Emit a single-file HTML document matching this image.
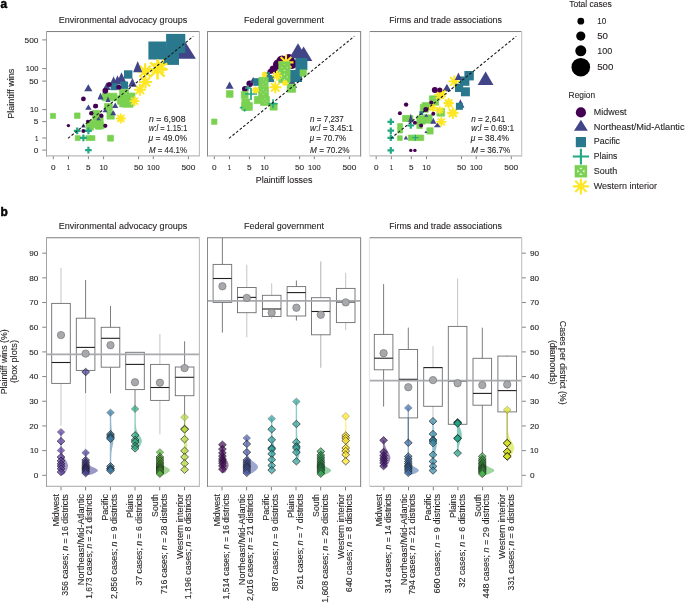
<!DOCTYPE html>
<html><head><meta charset="utf-8"><style>
html,body{margin:0;padding:0;background:#fff;overflow:hidden;}
svg{display:block;font-family:"Liberation Sans", sans-serif;}
text{font-family:"Liberation Sans", sans-serif;stroke:#231f20;stroke-width:0.1px;paint-order:stroke;}
svg{will-change:transform;}
</style></head><body>
<svg width="685" height="603" viewBox="0 0 685 603">
<rect width="685" height="603" fill="#fff"/>
<text x="0.40" y="7.90" font-size="12.30" font-weight="bold" textLength="6.60" lengthAdjust="spacingAndGlyphs" fill="#000" style="stroke:#000;stroke-width:0.45px">a</text>
<text x="0.60" y="215.70" font-size="12.20" font-weight="bold" textLength="7.30" lengthAdjust="spacingAndGlyphs" fill="#000" style="stroke:#000;stroke-width:0.45px">b</text>
<text x="122.95" y="22.50" font-size="8.48" text-anchor="middle" textLength="128.60" lengthAdjust="spacingAndGlyphs" fill="#231f20">Environmental advocacy groups</text>
<line x1="53.30" y1="155.90" x2="53.30" y2="159.20" stroke="#808285" stroke-width="1"/>
<text x="53.30" y="169.90" font-size="7.90" text-anchor="middle" textLength="4.60" lengthAdjust="spacingAndGlyphs" fill="#231f20">0</text>
<line x1="68.50" y1="155.90" x2="68.50" y2="159.20" stroke="#808285" stroke-width="1"/>
<text x="68.50" y="169.90" font-size="7.90" text-anchor="middle" textLength="3.40" lengthAdjust="spacingAndGlyphs" fill="#231f20">1</text>
<line x1="88.40" y1="155.90" x2="88.40" y2="159.20" stroke="#808285" stroke-width="1"/>
<text x="88.40" y="169.90" font-size="7.90" text-anchor="middle" textLength="4.60" lengthAdjust="spacingAndGlyphs" fill="#231f20">5</text>
<line x1="103.60" y1="155.90" x2="103.60" y2="159.20" stroke="#808285" stroke-width="1"/>
<text x="103.60" y="169.90" font-size="7.90" text-anchor="middle" textLength="8.40" lengthAdjust="spacingAndGlyphs" fill="#231f20">10</text>
<line x1="138.60" y1="155.90" x2="138.60" y2="159.20" stroke="#808285" stroke-width="1"/>
<text x="138.60" y="169.90" font-size="7.90" text-anchor="middle" textLength="9.20" lengthAdjust="spacingAndGlyphs" fill="#231f20">50</text>
<line x1="153.30" y1="155.90" x2="153.30" y2="159.20" stroke="#808285" stroke-width="1"/>
<text x="153.30" y="169.90" font-size="7.90" text-anchor="middle" textLength="12.60" lengthAdjust="spacingAndGlyphs" fill="#231f20">100</text>
<line x1="188.40" y1="155.90" x2="188.40" y2="159.20" stroke="#808285" stroke-width="1"/>
<text x="188.40" y="169.90" font-size="7.90" text-anchor="middle" textLength="13.90" lengthAdjust="spacingAndGlyphs" fill="#231f20">500</text>
<text x="284.05" y="22.50" font-size="8.48" text-anchor="middle" textLength="80.00" lengthAdjust="spacingAndGlyphs" fill="#231f20">Federal government</text>
<line x1="214.30" y1="155.90" x2="214.30" y2="159.20" stroke="#808285" stroke-width="1"/>
<text x="214.30" y="169.90" font-size="7.90" text-anchor="middle" textLength="4.60" lengthAdjust="spacingAndGlyphs" fill="#231f20">0</text>
<line x1="229.50" y1="155.90" x2="229.50" y2="159.20" stroke="#808285" stroke-width="1"/>
<text x="229.50" y="169.90" font-size="7.90" text-anchor="middle" textLength="3.40" lengthAdjust="spacingAndGlyphs" fill="#231f20">1</text>
<line x1="249.40" y1="155.90" x2="249.40" y2="159.20" stroke="#808285" stroke-width="1"/>
<text x="249.40" y="169.90" font-size="7.90" text-anchor="middle" textLength="4.60" lengthAdjust="spacingAndGlyphs" fill="#231f20">5</text>
<line x1="264.60" y1="155.90" x2="264.60" y2="159.20" stroke="#808285" stroke-width="1"/>
<text x="264.60" y="169.90" font-size="7.90" text-anchor="middle" textLength="8.40" lengthAdjust="spacingAndGlyphs" fill="#231f20">10</text>
<line x1="299.60" y1="155.90" x2="299.60" y2="159.20" stroke="#808285" stroke-width="1"/>
<text x="299.60" y="169.90" font-size="7.90" text-anchor="middle" textLength="9.20" lengthAdjust="spacingAndGlyphs" fill="#231f20">50</text>
<line x1="314.30" y1="155.90" x2="314.30" y2="159.20" stroke="#808285" stroke-width="1"/>
<text x="314.30" y="169.90" font-size="7.90" text-anchor="middle" textLength="12.60" lengthAdjust="spacingAndGlyphs" fill="#231f20">100</text>
<line x1="349.40" y1="155.90" x2="349.40" y2="159.20" stroke="#808285" stroke-width="1"/>
<text x="349.40" y="169.90" font-size="7.90" text-anchor="middle" textLength="13.90" lengthAdjust="spacingAndGlyphs" fill="#231f20">500</text>
<text x="445.55" y="22.50" font-size="8.48" text-anchor="middle" textLength="112.80" lengthAdjust="spacingAndGlyphs" fill="#231f20">Firms and trade associations</text>
<line x1="376.20" y1="155.90" x2="376.20" y2="159.20" stroke="#808285" stroke-width="1"/>
<text x="376.20" y="169.90" font-size="7.90" text-anchor="middle" textLength="4.60" lengthAdjust="spacingAndGlyphs" fill="#231f20">0</text>
<line x1="391.40" y1="155.90" x2="391.40" y2="159.20" stroke="#808285" stroke-width="1"/>
<text x="391.40" y="169.90" font-size="7.90" text-anchor="middle" textLength="3.40" lengthAdjust="spacingAndGlyphs" fill="#231f20">1</text>
<line x1="411.30" y1="155.90" x2="411.30" y2="159.20" stroke="#808285" stroke-width="1"/>
<text x="411.30" y="169.90" font-size="7.90" text-anchor="middle" textLength="4.60" lengthAdjust="spacingAndGlyphs" fill="#231f20">5</text>
<line x1="426.50" y1="155.90" x2="426.50" y2="159.20" stroke="#808285" stroke-width="1"/>
<text x="426.50" y="169.90" font-size="7.90" text-anchor="middle" textLength="8.40" lengthAdjust="spacingAndGlyphs" fill="#231f20">10</text>
<line x1="461.50" y1="155.90" x2="461.50" y2="159.20" stroke="#808285" stroke-width="1"/>
<text x="461.50" y="169.90" font-size="7.90" text-anchor="middle" textLength="9.20" lengthAdjust="spacingAndGlyphs" fill="#231f20">50</text>
<line x1="476.20" y1="155.90" x2="476.20" y2="159.20" stroke="#808285" stroke-width="1"/>
<text x="476.20" y="169.90" font-size="7.90" text-anchor="middle" textLength="12.60" lengthAdjust="spacingAndGlyphs" fill="#231f20">100</text>
<line x1="511.30" y1="155.90" x2="511.30" y2="159.20" stroke="#808285" stroke-width="1"/>
<text x="511.30" y="169.90" font-size="7.90" text-anchor="middle" textLength="13.90" lengthAdjust="spacingAndGlyphs" fill="#231f20">500</text>
<line x1="42.30" y1="39.90" x2="46.50" y2="39.90" stroke="#808285" stroke-width="1"/>
<text x="38.40" y="42.70" font-size="7.90" text-anchor="end" textLength="13.90" lengthAdjust="spacingAndGlyphs" fill="#231f20">500</text>
<line x1="42.30" y1="68.60" x2="46.50" y2="68.60" stroke="#808285" stroke-width="1"/>
<text x="38.40" y="71.40" font-size="7.90" text-anchor="end" textLength="12.60" lengthAdjust="spacingAndGlyphs" fill="#231f20">100</text>
<line x1="42.30" y1="81.10" x2="46.50" y2="81.10" stroke="#808285" stroke-width="1"/>
<text x="38.40" y="83.90" font-size="7.90" text-anchor="end" textLength="9.20" lengthAdjust="spacingAndGlyphs" fill="#231f20">50</text>
<line x1="42.30" y1="109.60" x2="46.50" y2="109.60" stroke="#808285" stroke-width="1"/>
<text x="38.40" y="112.40" font-size="7.90" text-anchor="end" textLength="8.40" lengthAdjust="spacingAndGlyphs" fill="#231f20">10</text>
<line x1="42.30" y1="121.60" x2="46.50" y2="121.60" stroke="#808285" stroke-width="1"/>
<text x="38.40" y="124.40" font-size="7.90" text-anchor="end" textLength="4.60" lengthAdjust="spacingAndGlyphs" fill="#231f20">5</text>
<line x1="42.30" y1="138.00" x2="46.50" y2="138.00" stroke="#808285" stroke-width="1"/>
<text x="38.40" y="140.80" font-size="7.90" text-anchor="end" textLength="3.40" lengthAdjust="spacingAndGlyphs" fill="#231f20">1</text>
<line x1="42.30" y1="150.10" x2="46.50" y2="150.10" stroke="#808285" stroke-width="1"/>
<text x="38.40" y="152.90" font-size="7.90" text-anchor="end" textLength="4.60" lengthAdjust="spacingAndGlyphs" fill="#231f20">0</text>
<text x="14.50" y="93.70" font-size="8.48" text-anchor="middle" transform="rotate(-90 14.50 93.70)" textLength="50.00" lengthAdjust="spacingAndGlyphs" fill="#231f20">Plaintiff wins</text>
<text x="284.10" y="183.00" font-size="8.48" text-anchor="middle" textLength="56.60" lengthAdjust="spacingAndGlyphs" fill="#231f20">Plaintiff losses</text>
<path d="M185.4 42.1L195.9 58.8L174.9 58.8Z" fill="#414487"/>
<rect x="166.1" y="33.9" width="19.2" height="19.2" fill="#2a788e"/>
<rect x="148.4" y="41.5" width="18.0" height="18.0" fill="#2a788e"/>
<path d="M147.5 69.5L167.5 69.5M150.4 62.4L164.6 76.6M157.5 59.5L157.5 79.5M164.6 62.4L150.4 76.6" stroke="#fde725" stroke-width="2.50"/><circle cx="157.5" cy="69.5" r="4.20" fill="#fde725"/>
<rect x="163.2" y="49.1" width="15.8" height="15.8" fill="#2a788e"/>
<path d="M137.1 71.3L153.1 71.3M139.4 65.6L150.8 77.0M145.1 63.3L145.1 79.3M150.8 65.6L139.4 77.0" stroke="#fde725" stroke-width="2.22"/><circle cx="145.1" cy="71.3" r="3.36" fill="#fde725"/>
<path d="M119.65 95.65H130.95V106.95H119.65ZM123.95 97.91L126.65 97.91L125.30 99.72ZM123.95 104.69L126.65 104.69L125.30 102.88ZM121.91 99.95L121.91 102.65L123.72 101.30ZM128.69 99.95L128.69 102.65L126.88 101.30Z" fill="#7ad151" fill-rule="evenodd" stroke="#7ad151" stroke-width="0.7" stroke-linejoin="round"/>
<path d="M153.6 63.6L167.4 69.4M157.6 59.6L163.4 73.4M163.4 59.6L157.6 73.4M167.4 63.6L153.6 69.4" stroke="#fde725" stroke-width="2.15"/><circle cx="160.5" cy="66.5" r="3.15" fill="#fde725"/>
<path d="M122.85 96.85H133.15V107.15H122.85ZM126.95 98.91L129.05 98.91L128.00 100.56ZM126.95 105.09L129.05 105.09L128.00 103.44ZM124.91 100.95L124.91 103.05L126.56 102.00ZM131.09 100.95L131.09 103.05L129.44 102.00Z" fill="#7ad151" fill-rule="evenodd" stroke="#7ad151" stroke-width="0.7" stroke-linejoin="round"/>
<path d="M139.0 81.9L152.0 81.9M140.9 77.3L150.1 86.5M145.5 75.4L145.5 88.4M150.1 77.3L140.9 86.5" stroke="#fde725" stroke-width="2.01"/><circle cx="145.5" cy="81.9" r="2.73" fill="#fde725"/>
<path d="M119.35 89.35H128.65V98.65H119.35ZM123.25 91.21L124.75 91.21L124.00 92.70ZM123.25 96.79L124.75 96.79L124.00 95.30ZM121.21 93.25L121.21 94.75L122.70 94.00ZM126.79 93.25L126.79 94.75L125.30 94.00Z" fill="#7ad151" fill-rule="evenodd" stroke="#7ad151" stroke-width="0.7" stroke-linejoin="round"/>
<path d="M133.9 89.8L145.9 89.8M135.7 85.6L144.1 94.0M139.9 83.8L139.9 95.8M144.1 85.6L135.7 94.0" stroke="#fde725" stroke-width="1.94"/><circle cx="139.9" cy="89.8" r="2.52" fill="#fde725"/>
<path d="M137.7 60.9L142.3 72.3L133.1 72.3Z" fill="#414487"/>
<path d="M117.35 95.85H125.65V104.15H117.35ZM121.05 97.51L121.95 97.51L121.50 98.84ZM121.05 102.49L121.95 102.49L121.50 101.16ZM119.01 99.55L119.01 100.45L120.34 100.00ZM123.99 99.55L123.99 100.45L122.66 100.00Z" fill="#7ad151" fill-rule="evenodd" stroke="#7ad151" stroke-width="0.7" stroke-linejoin="round"/>
<path d="M121.5 72.3L125.9 81.9L117.1 81.9Z" fill="#414487"/>
<path d="M104.45 103.45H112.35V111.35H104.45ZM108.07 105.03L108.73 105.03L108.40 106.29ZM108.07 109.77L108.73 109.77L108.40 108.51ZM106.03 107.07L106.03 107.73L107.29 107.40ZM110.77 107.07L110.77 107.73L109.51 107.40Z" fill="#7ad151" fill-rule="evenodd" stroke="#7ad151" stroke-width="0.7" stroke-linejoin="round"/>
<path d="M127.05 93.05H134.95V100.95H127.05ZM130.67 94.63L131.33 94.63L131.00 95.89ZM130.67 99.37L131.33 99.37L131.00 98.11ZM128.63 96.67L128.63 97.33L129.89 97.00ZM133.37 96.67L133.37 97.33L132.11 97.00Z" fill="#7ad151" fill-rule="evenodd" stroke="#7ad151" stroke-width="0.7" stroke-linejoin="round"/>
<rect x="124.0" y="70.3" width="8.4" height="8.4" fill="#2a788e"/>
<path d="M117.5 75.3L121.7 84.5L113.3 84.5Z" fill="#414487"/>
<path d="M113.6 76.2L117.8 85.4L109.4 85.4Z" fill="#414487"/>
<path d="M132.4 78.0L136.6 86.7L128.2 86.7Z" fill="#414487"/>
<path d="M102.15 93.15H109.85V100.85H102.15ZM105.73 94.69L106.27 94.69L106.00 95.92ZM105.73 99.31L106.27 99.31L106.00 98.08ZM103.69 96.73L103.69 97.27L104.92 97.00ZM108.31 96.73L108.31 97.27L107.08 97.00Z" fill="#7ad151" fill-rule="evenodd" stroke="#7ad151" stroke-width="0.7" stroke-linejoin="round"/>
<path d="M109.15 93.15H116.85V100.85H109.15ZM112.73 94.69L113.27 94.69L113.00 95.92ZM112.73 99.31L113.27 99.31L113.00 98.08ZM110.69 96.73L110.69 97.27L111.92 97.00ZM115.31 96.73L115.31 97.27L114.08 97.00Z" fill="#7ad151" fill-rule="evenodd" stroke="#7ad151" stroke-width="0.7" stroke-linejoin="round"/>
<path d="M88.3 84.3L92.4 91.3L84.2 91.3Z" fill="#414487"/>
<path d="M106.7 82.4L110.7 90.0L102.7 90.0Z" fill="#414487"/>
<path d="M92.35 110.35H99.65V117.65H92.35Z" fill="#7ad151" fill-rule="evenodd" stroke="#7ad151" stroke-width="0.7" stroke-linejoin="round"/>
<path d="M86.15 122.85H93.45V130.15H86.15Z" fill="#7ad151" fill-rule="evenodd" stroke="#7ad151" stroke-width="0.7" stroke-linejoin="round"/>
<path d="M106.95 111.85H114.25V119.15H106.95Z" fill="#7ad151" fill-rule="evenodd" stroke="#7ad151" stroke-width="0.7" stroke-linejoin="round"/>
<path d="M95.85 121.65H103.15V128.95H95.85Z" fill="#7ad151" fill-rule="evenodd" stroke="#7ad151" stroke-width="0.7" stroke-linejoin="round"/>
<path d="M95.85 115.35H103.15V122.65H95.85Z" fill="#7ad151" fill-rule="evenodd" stroke="#7ad151" stroke-width="0.7" stroke-linejoin="round"/>
<path d="M93.35 120.35H100.65V127.65H93.35Z" fill="#7ad151" fill-rule="evenodd" stroke="#7ad151" stroke-width="0.7" stroke-linejoin="round"/>
<path d="M129.6 101.2L139.6 101.2M131.1 97.7L138.1 104.7M134.6 96.2L134.6 106.2M138.1 97.7L131.1 104.7" stroke="#fde725" stroke-width="1.80"/><circle cx="134.6" cy="101.2" r="2.10" fill="#fde725"/>
<path d="M115.9 118.5L125.7 118.5M117.3 115.0L124.3 122.0M120.8 113.6L120.8 123.4M124.3 115.0L117.3 122.0" stroke="#fde725" stroke-width="1.79"/><circle cx="120.8" cy="118.5" r="2.06" fill="#fde725"/>
<rect x="120.7" y="81.5" width="7.4" height="7.4" fill="#2a788e"/>
<rect x="110.5" y="83.2" width="7.0" height="7.0" fill="#2a788e"/>
<path d="M92.85 113.85H99.15V120.15H92.85Z" fill="#7ad151" fill-rule="evenodd" stroke="#7ad151" stroke-width="0.7" stroke-linejoin="round"/>
<path d="M95.45 122.85H101.75V129.15H95.45Z" fill="#7ad151" fill-rule="evenodd" stroke="#7ad151" stroke-width="0.7" stroke-linejoin="round"/>
<path d="M86.85 120.35H93.15V126.65H86.85Z" fill="#7ad151" fill-rule="evenodd" stroke="#7ad151" stroke-width="0.7" stroke-linejoin="round"/>
<path d="M107.55 135.25H113.45V141.15H107.55Z" fill="#7ad151" fill-rule="evenodd" stroke="#7ad151" stroke-width="0.7" stroke-linejoin="round"/>
<path d="M88.4 104.4L91.6 109.7L85.2 109.7Z" fill="#414487"/>
<path d="M74.55 112.95H80.05V118.45H74.55Z" fill="#7ad151" fill-rule="evenodd" stroke="#7ad151" stroke-width="0.7" stroke-linejoin="round"/>
<path d="M115.2 102.6L118.2 108.0L112.2 108.0Z" fill="#414487"/>
<path d="M113.2 110.2L116.2 115.2L110.2 115.2Z" fill="#414487"/>
<path d="M100.5 92.5L103.5 99.6L97.5 99.6Z" fill="#414487"/>
<path d="M98.85 123.35H104.15V128.65H98.85Z" fill="#7ad151" fill-rule="evenodd" stroke="#7ad151" stroke-width="0.7" stroke-linejoin="round"/>
<circle cx="105.3" cy="90.8" r="2.90" fill="#440154"/>
<path d="M50.45 113.35H55.55V118.45H50.45Z" fill="#7ad151" fill-rule="evenodd" stroke="#7ad151" stroke-width="0.7" stroke-linejoin="round"/>
<path d="M75.25 135.65H80.15V140.55H75.25Z" fill="#7ad151" fill-rule="evenodd" stroke="#7ad151" stroke-width="0.7" stroke-linejoin="round"/>
<path d="M86.05 135.65H90.95V140.55H86.05Z" fill="#7ad151" fill-rule="evenodd" stroke="#7ad151" stroke-width="0.7" stroke-linejoin="round"/>
<path d="M90.05 135.65H94.95V140.55H90.05Z" fill="#7ad151" fill-rule="evenodd" stroke="#7ad151" stroke-width="0.7" stroke-linejoin="round"/>
<path d="M73.8 130.9H80.6M77.2 127.5V134.3" stroke="#22a884" stroke-width="2.20"/>
<path d="M85.0 130.9H91.8M88.4 127.5V134.3" stroke="#22a884" stroke-width="2.20"/>
<path d="M80.0 137.9H86.8M83.4 134.5V141.3" stroke="#22a884" stroke-width="2.20"/>
<path d="M105.1 108.2L107.6 112.2L102.6 112.2Z" fill="#414487"/>
<path d="M108.0 96.5L110.5 102.0L105.5 102.0Z" fill="#414487"/>
<circle cx="109.2" cy="84.5" r="2.50" fill="#440154"/>
<circle cx="118.8" cy="87.2" r="2.50" fill="#440154"/>
<path d="M85.1 150.1H91.7M88.4 146.8V153.4" stroke="#22a884" stroke-width="2.20"/>
<circle cx="83.4" cy="98.9" r="2.40" fill="#440154"/>
<circle cx="95.4" cy="106.2" r="2.40" fill="#440154"/>
<path d="M83.4 123.2L85.7 127.4L81.1 127.4Z" fill="#414487"/>
<path d="M98.5 116.8L100.7 120.3L96.3 120.3Z" fill="#414487"/>
<circle cx="91.3" cy="113.2" r="2.20" fill="#440154"/>
<circle cx="101.3" cy="115.8" r="2.20" fill="#440154"/>
<circle cx="96.0" cy="105.9" r="2.20" fill="#440154"/>
<circle cx="105.3" cy="125.8" r="2.10" fill="#440154"/>
<circle cx="83.4" cy="130.9" r="2.00" fill="#440154"/>
<circle cx="87.8" cy="121.5" r="1.80" fill="#440154"/>
<circle cx="68.4" cy="125.6" r="1.70" fill="#440154"/>
<circle cx="282.0" cy="61.0" r="5.50" fill="#440154"/>
<circle cx="289.0" cy="59.5" r="5.50" fill="#440154"/>
<circle cx="292.0" cy="64.0" r="5.00" fill="#440154"/>
<circle cx="278.0" cy="64.5" r="5.00" fill="#440154"/>
<circle cx="273.5" cy="69.5" r="4.00" fill="#440154"/>
<circle cx="249.7" cy="83.8" r="3.30" fill="#440154"/>
<circle cx="245.0" cy="89.0" r="3.00" fill="#440154"/>
<circle cx="270.0" cy="71.5" r="2.50" fill="#440154"/>
<path d="M303.6 46.6L312.3 61.1L294.9 61.1Z" fill="#414487"/>
<path d="M298.0 43.3L306.6 58.0L289.4 58.0Z" fill="#414487"/>
<path d="M292.0 76.0L297.0 88.0L287.0 88.0Z" fill="#414487"/>
<path d="M229.6 81.4L233.6 88.8L225.6 88.8Z" fill="#414487"/>
<path d="M253.2 77.0L256.7 83.1L249.7 83.1Z" fill="#414487"/>
<rect x="295.4" y="58.0" width="12.0" height="12.0" fill="#2a788e"/>
<rect x="290.0" y="70.0" width="12.0" height="12.0" fill="#2a788e"/>
<rect x="253.2" y="78.2" width="7.6" height="7.6" fill="#2a788e"/>
<rect x="266.9" y="74.9" width="7.2" height="7.2" fill="#2a788e"/>
<rect x="264.0" y="72.0" width="6.0" height="6.0" fill="#2a788e"/>
<path d="M278.5 62.4L293.5 62.4M280.7 57.1L291.3 67.7M286.0 54.9L286.0 69.9M291.3 57.1L280.7 67.7" stroke="#fde725" stroke-width="2.15"/><circle cx="286.0" cy="62.4" r="3.15" fill="#fde725"/>
<path d="M278.75 61.85H290.05V73.15H278.75ZM283.05 64.11L285.75 64.11L284.40 65.92ZM283.05 70.89L285.75 70.89L284.40 69.08ZM281.01 66.15L281.01 68.85L282.82 67.50ZM287.79 66.15L287.79 68.85L285.98 67.50Z" fill="#7ad151" fill-rule="evenodd" stroke="#7ad151" stroke-width="0.7" stroke-linejoin="round"/>
<path d="M278.75 71.35H290.05V82.65H278.75ZM283.05 73.61L285.75 73.61L284.40 75.42ZM283.05 80.39L285.75 80.39L284.40 78.58ZM281.01 75.65L281.01 78.35L282.82 77.00ZM287.79 75.65L287.79 78.35L285.98 77.00Z" fill="#7ad151" fill-rule="evenodd" stroke="#7ad151" stroke-width="0.7" stroke-linejoin="round"/>
<path d="M258.55 87.05H268.45V96.95H258.55ZM262.57 89.03L264.43 89.03L263.50 90.61ZM262.57 94.97L264.43 94.97L263.50 93.39ZM260.53 91.07L260.53 92.93L262.11 92.00ZM266.47 91.07L266.47 92.93L264.89 92.00Z" fill="#7ad151" fill-rule="evenodd" stroke="#7ad151" stroke-width="0.7" stroke-linejoin="round"/>
<path d="M258.85 77.35H268.15V86.65H258.85ZM262.75 79.21L264.25 79.21L263.50 80.70ZM262.75 84.79L264.25 84.79L263.50 83.30ZM260.71 81.25L260.71 82.75L262.20 82.00ZM266.29 81.25L266.29 82.75L264.80 82.00Z" fill="#7ad151" fill-rule="evenodd" stroke="#7ad151" stroke-width="0.7" stroke-linejoin="round"/>
<path d="M260.55 96.55H269.45V105.45H260.55ZM264.37 98.33L265.63 98.33L265.00 99.75ZM264.37 103.67L265.63 103.67L265.00 102.25ZM262.33 100.37L262.33 101.63L263.75 101.00ZM267.67 100.37L267.67 101.63L266.25 101.00Z" fill="#7ad151" fill-rule="evenodd" stroke="#7ad151" stroke-width="0.7" stroke-linejoin="round"/>
<path d="M287.25 84.05H295.55V92.35H287.25ZM290.95 85.71L291.85 85.71L291.40 87.04ZM290.95 90.69L291.85 90.69L291.40 89.36ZM288.91 87.75L288.91 88.65L290.24 88.20ZM293.89 87.75L293.89 88.65L292.56 88.20Z" fill="#7ad151" fill-rule="evenodd" stroke="#7ad151" stroke-width="0.7" stroke-linejoin="round"/>
<path d="M241.85 98.95H249.75V106.85H241.85ZM245.47 100.53L246.13 100.53L245.80 101.79ZM245.47 105.27L246.13 105.27L245.80 104.01ZM243.43 102.57L243.43 103.23L244.69 102.90ZM248.17 102.57L248.17 103.23L246.91 102.90Z" fill="#7ad151" fill-rule="evenodd" stroke="#7ad151" stroke-width="0.7" stroke-linejoin="round"/>
<path d="M244.45 102.45H252.35V110.35H244.45ZM248.07 104.03L248.73 104.03L248.40 105.29ZM248.07 108.77L248.73 108.77L248.40 107.51ZM246.03 106.07L246.03 106.73L247.29 106.40ZM250.77 106.07L250.77 106.73L249.51 106.40Z" fill="#7ad151" fill-rule="evenodd" stroke="#7ad151" stroke-width="0.7" stroke-linejoin="round"/>
<path d="M241.85 102.45H249.75V110.35H241.85ZM245.47 104.03L246.13 104.03L245.80 105.29ZM245.47 108.77L246.13 108.77L245.80 107.51ZM243.43 106.07L243.43 106.73L244.69 106.40ZM248.17 106.07L248.17 106.73L246.91 106.40Z" fill="#7ad151" fill-rule="evenodd" stroke="#7ad151" stroke-width="0.7" stroke-linejoin="round"/>
<path d="M254.35 96.35H261.65V103.65H254.35Z" fill="#7ad151" fill-rule="evenodd" stroke="#7ad151" stroke-width="0.7" stroke-linejoin="round"/>
<path d="M270.05 103.05H277.15V110.15H270.05Z" fill="#7ad151" fill-rule="evenodd" stroke="#7ad151" stroke-width="0.7" stroke-linejoin="round"/>
<path d="M241.25 91.55H248.15V98.45H241.25Z" fill="#7ad151" fill-rule="evenodd" stroke="#7ad151" stroke-width="0.7" stroke-linejoin="round"/>
<path d="M226.35 90.65H233.05V97.35H226.35Z" fill="#7ad151" fill-rule="evenodd" stroke="#7ad151" stroke-width="0.7" stroke-linejoin="round"/>
<path d="M300.05 69.85H306.35V76.15H300.05Z" fill="#7ad151" fill-rule="evenodd" stroke="#7ad151" stroke-width="0.7" stroke-linejoin="round"/>
<path d="M211.65 119.05H216.95V124.35H211.65Z" fill="#7ad151" fill-rule="evenodd" stroke="#7ad151" stroke-width="0.7" stroke-linejoin="round"/>
<path d="M245.0 94.0H257.0M251.0 88.0V100.0" stroke="#22a884" stroke-width="1.70"/>
<path d="M268.5 103.7H277.5M273.0 99.2V108.2" stroke="#22a884" stroke-width="1.60"/>
<path d="M245.0 88.0H251.0M248.0 85.0V91.0" stroke="#22a884" stroke-width="1.30"/>
<path d="M243.2 110.3H246.2M244.7 108.8V111.8" stroke="#22a884" stroke-width="1.00"/>
<path d="M239.7 107.7H242.7M241.2 106.2V109.2" stroke="#22a884" stroke-width="1.00"/>
<path d="M269.3 87.3L281.3 87.3M271.1 83.1L279.5 91.5M275.3 81.3L275.3 93.3M279.5 83.1L271.1 91.5" stroke="#fde725" stroke-width="1.94"/><circle cx="275.3" cy="87.3" r="2.52" fill="#fde725"/>
<path d="M271.9 75.7L281.9 75.7M273.4 72.2L280.4 79.2M276.9 70.7L276.9 80.7M280.4 72.2L273.4 79.2" stroke="#fde725" stroke-width="1.80"/><circle cx="276.9" cy="75.7" r="2.10" fill="#fde725"/>
<path d="M252.2 90.1L259.2 90.1M253.2 87.6L258.2 92.6M255.7 86.6L255.7 93.6M258.2 87.6L253.2 92.6" stroke="#fde725" stroke-width="1.59"/><circle cx="255.7" cy="90.1" r="1.47" fill="#fde725"/>
<path d="M261.5 74.4L267.5 74.4M262.4 72.3L266.6 76.5M264.5 71.4L264.5 77.4M266.6 72.3L262.4 76.5" stroke="#fde725" stroke-width="1.52"/><circle cx="264.5" cy="74.4" r="1.26" fill="#fde725"/>
<path d="M282.0 83.0L288.0 83.0M282.9 80.9L287.1 85.1M285.0 80.0L285.0 86.0M287.1 80.9L282.9 85.1" stroke="#fde725" stroke-width="1.52"/><circle cx="285.0" cy="83.0" r="1.26" fill="#fde725"/>
<path d="M485.6 71.4L493.5 84.9L477.7 84.9Z" fill="#414487"/>
<path d="M429.35 95.85H438.65V105.15H429.35ZM433.25 97.71L434.75 97.71L434.00 99.20ZM433.25 103.29L434.75 103.29L434.00 101.80ZM431.21 99.75L431.21 101.25L432.70 100.50ZM436.79 99.75L436.79 101.25L435.30 100.50Z" fill="#7ad151" fill-rule="evenodd" stroke="#7ad151" stroke-width="0.7" stroke-linejoin="round"/>
<path d="M448.4 81.4L460.4 81.4M450.2 77.2L458.6 85.6M454.4 75.4L454.4 87.4M458.6 77.2L450.2 85.6" stroke="#fde725" stroke-width="1.94"/><circle cx="454.4" cy="81.4" r="2.52" fill="#fde725"/>
<rect x="464.4" y="71.0" width="9.4" height="9.4" fill="#2a788e"/>
<rect x="460.0" y="76.4" width="9.4" height="9.4" fill="#2a788e"/>
<rect x="460.9" y="87.3" width="9.0" height="9.0" fill="#2a788e"/>
<path d="M416.85 115.85H425.15V124.15H416.85ZM420.55 117.51L421.45 117.51L421.00 118.84ZM420.55 122.49L421.45 122.49L421.00 121.16ZM418.51 119.55L418.51 120.45L419.84 120.00ZM423.49 119.55L423.49 120.45L422.16 120.00Z" fill="#7ad151" fill-rule="evenodd" stroke="#7ad151" stroke-width="0.7" stroke-linejoin="round"/>
<path d="M423.85 114.85H432.15V123.15H423.85ZM427.55 116.51L428.45 116.51L428.00 117.84ZM427.55 121.49L428.45 121.49L428.00 120.16ZM425.51 118.55L425.51 119.45L426.84 119.00ZM430.49 118.55L430.49 119.45L429.16 119.00Z" fill="#7ad151" fill-rule="evenodd" stroke="#7ad151" stroke-width="0.7" stroke-linejoin="round"/>
<path d="M420.25 104.25H428.35V112.35H420.25ZM423.91 105.87L424.69 105.87L424.30 107.17ZM423.91 110.73L424.69 110.73L424.30 109.43ZM421.87 107.91L421.87 108.69L423.17 108.30ZM426.73 107.91L426.73 108.69L425.43 108.30Z" fill="#7ad151" fill-rule="evenodd" stroke="#7ad151" stroke-width="0.7" stroke-linejoin="round"/>
<path d="M434.3 94.9L445.3 94.9M435.9 91.0L443.7 98.8M439.8 89.4L439.8 100.4M443.7 91.0L435.9 98.8" stroke="#fde725" stroke-width="1.87"/><circle cx="439.8" cy="94.9" r="2.31" fill="#fde725"/>
<path d="M447.2 112.8L458.2 112.8M448.8 108.9L456.6 116.7M452.7 107.3L452.7 118.3M456.6 108.9L448.8 116.7" stroke="#fde725" stroke-width="1.87"/><circle cx="452.7" cy="112.8" r="2.31" fill="#fde725"/>
<path d="M447.4 113.2L458.4 113.2M449.0 109.3L456.8 117.1M452.9 107.7L452.9 118.7M456.8 109.3L449.0 117.1" stroke="#fde725" stroke-width="1.87"/><circle cx="452.9" cy="113.2" r="2.31" fill="#fde725"/>
<path d="M436.95 108.45H444.65V116.15H436.95ZM440.53 109.99L441.07 109.99L440.80 111.22ZM440.53 114.61L441.07 114.61L440.80 113.38ZM438.49 112.03L438.49 112.57L439.72 112.30ZM443.11 112.03L443.11 112.57L441.88 112.30Z" fill="#7ad151" fill-rule="evenodd" stroke="#7ad151" stroke-width="0.7" stroke-linejoin="round"/>
<rect x="455.0" y="83.8" width="8.2" height="8.2" fill="#2a788e"/>
<path d="M447.0 83.9L451.0 91.3L443.0 91.3Z" fill="#414487"/>
<path d="M460.4 99.3L464.4 107.8L456.4 107.8Z" fill="#414487"/>
<path d="M446.7 84.5L450.7 91.0L442.7 91.0Z" fill="#414487"/>
<path d="M422.35 102.55H429.65V109.85H422.35Z" fill="#7ad151" fill-rule="evenodd" stroke="#7ad151" stroke-width="0.7" stroke-linejoin="round"/>
<path d="M443.7 102.9L453.7 102.9M445.2 99.4L452.2 106.4M448.7 97.9L448.7 107.9M452.2 99.4L445.2 106.4" stroke="#fde725" stroke-width="1.80"/><circle cx="448.7" cy="102.9" r="2.10" fill="#fde725"/>
<path d="M436.3 121.8L446.3 121.8M437.8 118.3L444.8 125.3M441.3 116.8L441.3 126.8M444.8 118.3L437.8 125.3" stroke="#fde725" stroke-width="1.80"/><circle cx="441.3" cy="121.8" r="2.10" fill="#fde725"/>
<path d="M443.5 103.3L453.5 103.3M445.0 99.8L452.0 106.8M448.5 98.3L448.5 108.3M452.0 99.8L445.0 106.8" stroke="#fde725" stroke-width="1.80"/><circle cx="448.5" cy="103.3" r="2.10" fill="#fde725"/>
<path d="M437.0 93.8L447.0 93.8M438.5 90.3L445.5 97.3M442.0 88.8L442.0 98.8M445.5 90.3L438.5 97.3" stroke="#fde725" stroke-width="1.80"/><circle cx="442.0" cy="93.8" r="2.10" fill="#fde725"/>
<path d="M458.4 72.4L462.0 79.9L454.8 79.9Z" fill="#414487"/>
<path d="M437.3 122.8L440.8 127.3L433.8 127.3Z" fill="#414487"/>
<rect x="455.9" y="102.8" width="7.0" height="7.0" fill="#2a788e"/>
<path d="M426.85 127.75H433.15V134.05H426.85Z" fill="#7ad151" fill-rule="evenodd" stroke="#7ad151" stroke-width="0.7" stroke-linejoin="round"/>
<path d="M428.6 107.9L437.0 107.9M429.8 104.9L435.8 110.9M432.8 103.7L432.8 112.1M435.8 104.9L429.8 110.9" stroke="#fde725" stroke-width="1.69"/><circle cx="432.8" cy="107.9" r="1.76" fill="#fde725"/>
<path d="M402.55 115.55H408.45V121.45H402.55Z" fill="#7ad151" fill-rule="evenodd" stroke="#7ad151" stroke-width="0.7" stroke-linejoin="round"/>
<path d="M407.05 115.55H412.95V121.45H407.05Z" fill="#7ad151" fill-rule="evenodd" stroke="#7ad151" stroke-width="0.7" stroke-linejoin="round"/>
<path d="M435.8 110.3L443.8 110.3M437.0 107.5L442.6 113.1M439.8 106.3L439.8 114.3M442.6 107.5L437.0 113.1" stroke="#fde725" stroke-width="1.66"/><circle cx="439.8" cy="110.3" r="1.68" fill="#fde725"/>
<path d="M408.25 135.05H413.75V140.55H408.25Z" fill="#7ad151" fill-rule="evenodd" stroke="#7ad151" stroke-width="0.7" stroke-linejoin="round"/>
<path d="M413.25 135.05H418.75V140.55H413.25Z" fill="#7ad151" fill-rule="evenodd" stroke="#7ad151" stroke-width="0.7" stroke-linejoin="round"/>
<path d="M418.25 135.05H423.75V140.55H418.25Z" fill="#7ad151" fill-rule="evenodd" stroke="#7ad151" stroke-width="0.7" stroke-linejoin="round"/>
<path d="M416.85 123.05H422.35V128.55H416.85Z" fill="#7ad151" fill-rule="evenodd" stroke="#7ad151" stroke-width="0.7" stroke-linejoin="round"/>
<path d="M433.3 117.8L436.3 123.8L430.3 123.8Z" fill="#414487"/>
<circle cx="434.8" cy="90.0" r="3.00" fill="#440154"/>
<path d="M403.85 115.85H409.15V121.15H403.85Z" fill="#7ad151" fill-rule="evenodd" stroke="#7ad151" stroke-width="0.7" stroke-linejoin="round"/>
<path d="M397.65 123.55H402.55V128.45H397.65Z" fill="#7ad151" fill-rule="evenodd" stroke="#7ad151" stroke-width="0.7" stroke-linejoin="round"/>
<path d="M397.65 128.15H402.55V133.05H397.65Z" fill="#7ad151" fill-rule="evenodd" stroke="#7ad151" stroke-width="0.7" stroke-linejoin="round"/>
<path d="M397.55 135.75H402.25V140.45H397.55Z" fill="#7ad151" fill-rule="evenodd" stroke="#7ad151" stroke-width="0.7" stroke-linejoin="round"/>
<path d="M410.8 113.5L413.3 122.3L408.3 122.3Z" fill="#414487"/>
<circle cx="439.8" cy="90.0" r="2.50" fill="#440154"/>
<circle cx="425.8" cy="109.4" r="2.50" fill="#440154"/>
<path d="M387.5 121.8H394.1M390.8 118.5V125.1" stroke="#22a884" stroke-width="2.20"/>
<path d="M387.5 130.7H394.1M390.8 127.4V134.0" stroke="#22a884" stroke-width="2.20"/>
<path d="M387.5 137.8H394.1M390.8 134.5V141.1" stroke="#22a884" stroke-width="2.20"/>
<path d="M387.5 150.4H394.1M390.8 147.1V153.7" stroke="#22a884" stroke-width="2.20"/>
<path d="M407.5 125.5H414.1M410.8 122.2V128.8" stroke="#22a884" stroke-width="2.20"/>
<path d="M412.4 137.7H418.4M415.4 134.7V140.7" stroke="#22a884" stroke-width="1.20"/>
<path d="M405.9 135.6L408.1 139.6L403.7 139.6Z" fill="#414487"/>
<circle cx="406.1" cy="104.6" r="2.20" fill="#440154"/>
<path d="M426.3 113.8L428.3 116.8L424.3 116.8Z" fill="#414487"/>
<circle cx="399.9" cy="113.3" r="2.00" fill="#440154"/>
<circle cx="431.3" cy="102.4" r="2.00" fill="#440154"/>
<circle cx="433.3" cy="113.8" r="2.00" fill="#440154"/>
<circle cx="421.1" cy="125.6" r="2.00" fill="#440154"/>
<circle cx="414.9" cy="122.8" r="2.00" fill="#440154"/>
<rect x="419.4" y="111.3" width="3.8" height="3.8" fill="#2a788e"/>
<circle cx="410.8" cy="150.4" r="1.70" fill="#440154"/>
<circle cx="414.9" cy="150.4" r="1.70" fill="#440154"/>
<path d="M425.9 130.6L427.4 133.0L424.4 133.0Z" fill="#414487"/>
<line x1="68.00" y1="138.4" x2="193.30" y2="36.3" stroke="#1a1a1a" stroke-width="1.1" stroke-dasharray="2.7,1.9"/>
<line x1="46.50" y1="31.55" x2="199.40" y2="31.55" stroke="#7d7d7d" stroke-width="1.0"/>
<line x1="46.50" y1="155.95" x2="199.40" y2="155.95" stroke="#b8b8b8" stroke-width="1.25"/>
<line x1="46.50" y1="31.05" x2="46.50" y2="156.50" stroke="#a3a3a3" stroke-width="1.0"/>
<line x1="199.40" y1="31.05" x2="199.40" y2="156.50" stroke="#bebebe" stroke-width="1.15"/>
<text x="149.00" y="121.70" font-size="8.19" textLength="36.50" lengthAdjust="spacingAndGlyphs" fill="#231f20"><tspan font-style="italic">n</tspan> = 6,908</text>
<text x="149.00" y="131.40" font-size="8.19" textLength="38.30" lengthAdjust="spacingAndGlyphs" fill="#231f20"><tspan font-style="italic">w</tspan>:<tspan font-style="italic">l</tspan> = 1.15:1</text>
<text x="148.60" y="141.40" font-size="8.19" textLength="38.40" lengthAdjust="spacingAndGlyphs" fill="#231f20"><tspan font-style="italic">μ</tspan> = 49.0%</text>
<text x="149.00" y="153.30" font-size="8.19" textLength="37.90" lengthAdjust="spacingAndGlyphs" fill="#231f20"><tspan font-style="italic">M</tspan> = 44.1%</text>
<line x1="229.00" y1="138.4" x2="354.30" y2="36.3" stroke="#1a1a1a" stroke-width="1.1" stroke-dasharray="2.7,1.9"/>
<line x1="207.50" y1="31.55" x2="360.60" y2="31.55" stroke="#7d7d7d" stroke-width="1.0"/>
<line x1="207.50" y1="155.95" x2="360.60" y2="155.95" stroke="#b8b8b8" stroke-width="1.25"/>
<line x1="207.50" y1="31.05" x2="207.50" y2="156.50" stroke="#8a8a8a" stroke-width="1.0"/>
<line x1="360.60" y1="31.05" x2="360.60" y2="156.50" stroke="#8e8e8e" stroke-width="1.15"/>
<text x="310.10" y="121.70" font-size="8.19" textLength="33.70" lengthAdjust="spacingAndGlyphs" fill="#231f20"><tspan font-style="italic">n</tspan> = 7,237</text>
<text x="310.10" y="131.40" font-size="8.19" textLength="42.90" lengthAdjust="spacingAndGlyphs" fill="#231f20"><tspan font-style="italic">w</tspan>:<tspan font-style="italic">l</tspan> = 3.45:1</text>
<text x="309.70" y="141.40" font-size="8.19" textLength="36.40" lengthAdjust="spacingAndGlyphs" fill="#231f20"><tspan font-style="italic">μ</tspan> = 70.7%</text>
<text x="310.10" y="153.30" font-size="8.19" textLength="39.40" lengthAdjust="spacingAndGlyphs" fill="#231f20"><tspan font-style="italic">M</tspan> = 70.2%</text>
<line x1="390.90" y1="138.4" x2="516.20" y2="36.3" stroke="#1a1a1a" stroke-width="1.1" stroke-dasharray="2.7,1.9"/>
<line x1="369.40" y1="31.55" x2="521.70" y2="31.55" stroke="#7d7d7d" stroke-width="1.0"/>
<line x1="369.40" y1="155.95" x2="521.70" y2="155.95" stroke="#b8b8b8" stroke-width="1.25"/>
<line x1="369.40" y1="31.05" x2="369.40" y2="156.50" stroke="#e2e2e2" stroke-width="1.0"/>
<line x1="521.70" y1="31.05" x2="521.70" y2="156.50" stroke="#c4c4c4" stroke-width="1.15"/>
<text x="471.20" y="121.70" font-size="8.19" textLength="34.20" lengthAdjust="spacingAndGlyphs" fill="#231f20"><tspan font-style="italic">n</tspan> = 2,641</text>
<text x="471.20" y="131.40" font-size="8.19" textLength="43.00" lengthAdjust="spacingAndGlyphs" fill="#231f20"><tspan font-style="italic">w</tspan>:<tspan font-style="italic">l</tspan> = 0.69:1</text>
<text x="470.80" y="141.40" font-size="8.19" textLength="38.10" lengthAdjust="spacingAndGlyphs" fill="#231f20"><tspan font-style="italic">μ</tspan> = 38.4%</text>
<text x="471.20" y="153.30" font-size="8.19" textLength="39.00" lengthAdjust="spacingAndGlyphs" fill="#231f20"><tspan font-style="italic">M</tspan> = 36.7%</text>
<text x="569.20" y="6.60" font-size="8.48" textLength="42.70" lengthAdjust="spacingAndGlyphs" fill="#231f20">Total cases</text>
<circle cx="580.8" cy="21.2" r="3.4" fill="#000"/>
<text x="597.20" y="23.90" font-size="8.48" textLength="9.00" lengthAdjust="spacingAndGlyphs" fill="#231f20">10</text>
<circle cx="580.8" cy="36.1" r="4.6" fill="#000"/>
<text x="597.20" y="38.80" font-size="8.48" textLength="10.80" lengthAdjust="spacingAndGlyphs" fill="#231f20">50</text>
<circle cx="580.8" cy="50.8" r="5.5" fill="#000"/>
<text x="597.20" y="53.50" font-size="8.48" textLength="15.00" lengthAdjust="spacingAndGlyphs" fill="#231f20">100</text>
<circle cx="580.8" cy="67.2" r="9.3" fill="#000"/>
<text x="597.20" y="70.00" font-size="8.48" textLength="16.20" lengthAdjust="spacingAndGlyphs" fill="#231f20">500</text>
<text x="568.60" y="97.50" font-size="8.48" textLength="26.50" lengthAdjust="spacingAndGlyphs" fill="#231f20">Region</text>
<circle cx="580.9" cy="112.4" r="5.1" fill="#440154"/>
<path d="M580.9 119.8L587.8 130.7L574.0 130.7Z" fill="#414487"/>
<rect x="575.8" y="137" width="10.2" height="10.2" fill="#2a788e"/>
<path d="M572.8 156.5H589.0M580.9 148.7V164.4" stroke="#22a884" stroke-width="2.1"/>
<path d="M574.85 165.25H586.95V177.35H574.85ZM578.96 167.67L582.84 167.67L580.90 169.61ZM578.96 174.93L582.84 174.93L580.90 172.99ZM577.27 169.36L577.27 173.24L579.21 171.30ZM584.53 169.36L584.53 173.24L582.59 171.30Z" fill="#7ad151" fill-rule="evenodd" stroke="#7ad151" stroke-width="0.3" stroke-linejoin="round"/>
<path d="M572.90 186.40L588.90 186.40M575.24 180.74L586.56 192.06M580.90 178.40L580.90 194.40M586.56 180.74L575.24 192.06" stroke="#fde725" stroke-width="2.1"/>
<circle cx="580.9" cy="186.4" r="2.2" fill="#fde725"/>
<text x="593.80" y="115.10" font-size="8.48" textLength="32.80" lengthAdjust="spacingAndGlyphs" fill="#231f20">Midwest</text>
<text x="593.80" y="130.00" font-size="8.48" textLength="90.70" lengthAdjust="spacingAndGlyphs" fill="#231f20">Northeast/Mid-Atlantic</text>
<text x="593.80" y="144.30" font-size="8.48" textLength="26.30" lengthAdjust="spacingAndGlyphs" fill="#231f20">Pacific</text>
<text x="593.80" y="159.40" font-size="8.48" textLength="23.50" lengthAdjust="spacingAndGlyphs" fill="#231f20">Plains</text>
<text x="593.80" y="174.30" font-size="8.48" textLength="23.50" lengthAdjust="spacingAndGlyphs" fill="#231f20">South</text>
<text x="593.80" y="189.00" font-size="8.48" textLength="63.30" lengthAdjust="spacingAndGlyphs" fill="#231f20">Western interior</text>
<text x="122.95" y="228.90" font-size="8.48" text-anchor="middle" textLength="128.60" lengthAdjust="spacingAndGlyphs" fill="#231f20">Environmental advocacy groups</text>
<line x1="61.00" y1="486.40" x2="61.00" y2="490.40" stroke="#808285" stroke-width="1"/>
<text x="59.00" y="494.00" font-size="8.17" text-anchor="end" transform="rotate(-90 59.00 494.00)" textLength="32.50" lengthAdjust="spacingAndGlyphs" fill="#231f20">Midwest</text>
<text x="67.85" y="494.00" font-size="8.17" text-anchor="end" transform="rotate(-90 67.85 494.00)" textLength="101.70" lengthAdjust="spacingAndGlyphs" fill="#231f20">356 cases; <tspan font-style="italic">n</tspan> = 16 districts</text>
<line x1="85.60" y1="486.40" x2="85.60" y2="490.40" stroke="#808285" stroke-width="1"/>
<text x="83.60" y="494.00" font-size="8.17" text-anchor="end" transform="rotate(-90 83.60 494.00)" textLength="91.30" lengthAdjust="spacingAndGlyphs" fill="#231f20">Northeast/Mid-Atlantic</text>
<text x="92.45" y="494.00" font-size="8.17" text-anchor="end" transform="rotate(-90 92.45 494.00)" textLength="104.70" lengthAdjust="spacingAndGlyphs" fill="#231f20">1,673 cases; <tspan font-style="italic">n</tspan> = 21 districts</text>
<line x1="110.40" y1="486.40" x2="110.40" y2="490.40" stroke="#808285" stroke-width="1"/>
<text x="108.40" y="494.00" font-size="8.17" text-anchor="end" transform="rotate(-90 108.40 494.00)" textLength="26.70" lengthAdjust="spacingAndGlyphs" fill="#231f20">Pacific</text>
<text x="117.25" y="494.00" font-size="8.17" text-anchor="end" transform="rotate(-90 117.25 494.00)" textLength="105.00" lengthAdjust="spacingAndGlyphs" fill="#231f20">2,856 cases; <tspan font-style="italic">n</tspan> = 9 districts</text>
<line x1="135.00" y1="486.40" x2="135.00" y2="490.40" stroke="#808285" stroke-width="1"/>
<text x="133.00" y="494.00" font-size="8.17" text-anchor="end" transform="rotate(-90 133.00 494.00)" textLength="23.90" lengthAdjust="spacingAndGlyphs" fill="#231f20">Plains</text>
<text x="141.85" y="494.00" font-size="8.17" text-anchor="end" transform="rotate(-90 141.85 494.00)" textLength="91.60" lengthAdjust="spacingAndGlyphs" fill="#231f20">37 cases; <tspan font-style="italic">n</tspan> = 6 districts</text>
<line x1="159.70" y1="486.40" x2="159.70" y2="490.40" stroke="#808285" stroke-width="1"/>
<text x="157.70" y="494.00" font-size="8.17" text-anchor="end" transform="rotate(-90 157.70 494.00)" textLength="22.90" lengthAdjust="spacingAndGlyphs" fill="#231f20">South</text>
<text x="166.55" y="494.00" font-size="8.17" text-anchor="end" transform="rotate(-90 166.55 494.00)" textLength="100.20" lengthAdjust="spacingAndGlyphs" fill="#231f20">716 cases; <tspan font-style="italic">n</tspan> = 28 districts</text>
<line x1="184.50" y1="486.40" x2="184.50" y2="490.40" stroke="#808285" stroke-width="1"/>
<text x="182.50" y="494.00" font-size="8.17" text-anchor="end" transform="rotate(-90 182.50 494.00)" textLength="64.90" lengthAdjust="spacingAndGlyphs" fill="#231f20">Western interior</text>
<text x="191.35" y="494.00" font-size="8.17" text-anchor="end" transform="rotate(-90 191.35 494.00)" textLength="105.30" lengthAdjust="spacingAndGlyphs" fill="#231f20">1,196 cases; <tspan font-style="italic">n</tspan> = 8 districts</text>
<text x="284.05" y="228.90" font-size="8.48" text-anchor="middle" textLength="80.00" lengthAdjust="spacingAndGlyphs" fill="#231f20">Federal government</text>
<line x1="222.00" y1="486.40" x2="222.00" y2="490.40" stroke="#808285" stroke-width="1"/>
<text x="220.00" y="494.00" font-size="8.17" text-anchor="end" transform="rotate(-90 220.00 494.00)" textLength="32.50" lengthAdjust="spacingAndGlyphs" fill="#231f20">Midwest</text>
<text x="228.85" y="494.00" font-size="8.17" text-anchor="end" transform="rotate(-90 228.85 494.00)" textLength="105.40" lengthAdjust="spacingAndGlyphs" fill="#231f20">1,514 cases; <tspan font-style="italic">n</tspan> = 16 districts</text>
<line x1="246.60" y1="486.40" x2="246.60" y2="490.40" stroke="#808285" stroke-width="1"/>
<text x="244.60" y="494.00" font-size="8.17" text-anchor="end" transform="rotate(-90 244.60 494.00)" textLength="91.30" lengthAdjust="spacingAndGlyphs" fill="#231f20">Northeast/Mid-Atlantic</text>
<text x="253.45" y="494.00" font-size="8.17" text-anchor="end" transform="rotate(-90 253.45 494.00)" textLength="106.90" lengthAdjust="spacingAndGlyphs" fill="#231f20">2,016 cases; <tspan font-style="italic">n</tspan> = 21 districts</text>
<line x1="271.40" y1="486.40" x2="271.40" y2="490.40" stroke="#808285" stroke-width="1"/>
<text x="269.40" y="494.00" font-size="8.17" text-anchor="end" transform="rotate(-90 269.40 494.00)" textLength="26.70" lengthAdjust="spacingAndGlyphs" fill="#231f20">Pacific</text>
<text x="278.25" y="494.00" font-size="8.17" text-anchor="end" transform="rotate(-90 278.25 494.00)" textLength="97.30" lengthAdjust="spacingAndGlyphs" fill="#231f20">887 cases; <tspan font-style="italic">n</tspan> = 9 districts</text>
<line x1="296.00" y1="486.40" x2="296.00" y2="490.40" stroke="#808285" stroke-width="1"/>
<text x="294.00" y="494.00" font-size="8.17" text-anchor="end" transform="rotate(-90 294.00 494.00)" textLength="23.90" lengthAdjust="spacingAndGlyphs" fill="#231f20">Plains</text>
<text x="302.85" y="494.00" font-size="8.17" text-anchor="end" transform="rotate(-90 302.85 494.00)" textLength="95.40" lengthAdjust="spacingAndGlyphs" fill="#231f20">261 cases; <tspan font-style="italic">n</tspan> = 7 districts</text>
<line x1="320.70" y1="486.40" x2="320.70" y2="490.40" stroke="#808285" stroke-width="1"/>
<text x="318.70" y="494.00" font-size="8.17" text-anchor="end" transform="rotate(-90 318.70 494.00)" textLength="22.90" lengthAdjust="spacingAndGlyphs" fill="#231f20">South</text>
<text x="327.55" y="494.00" font-size="8.17" text-anchor="end" transform="rotate(-90 327.55 494.00)" textLength="108.80" lengthAdjust="spacingAndGlyphs" fill="#231f20">1,608 cases; <tspan font-style="italic">n</tspan> = 29 districts</text>
<line x1="345.50" y1="486.40" x2="345.50" y2="490.40" stroke="#808285" stroke-width="1"/>
<text x="343.50" y="494.00" font-size="8.17" text-anchor="end" transform="rotate(-90 343.50 494.00)" textLength="64.90" lengthAdjust="spacingAndGlyphs" fill="#231f20">Western interior</text>
<text x="352.35" y="494.00" font-size="8.17" text-anchor="end" transform="rotate(-90 352.35 494.00)" textLength="98.30" lengthAdjust="spacingAndGlyphs" fill="#231f20">640 cases; <tspan font-style="italic">n</tspan> = 8 districts</text>
<text x="445.55" y="228.90" font-size="8.48" text-anchor="middle" textLength="112.80" lengthAdjust="spacingAndGlyphs" fill="#231f20">Firms and trade associations</text>
<line x1="383.90" y1="486.40" x2="383.90" y2="490.40" stroke="#808285" stroke-width="1"/>
<text x="381.90" y="494.00" font-size="8.17" text-anchor="end" transform="rotate(-90 381.90 494.00)" textLength="32.50" lengthAdjust="spacingAndGlyphs" fill="#231f20">Midwest</text>
<text x="390.75" y="494.00" font-size="8.17" text-anchor="end" transform="rotate(-90 390.75 494.00)" textLength="99.30" lengthAdjust="spacingAndGlyphs" fill="#231f20">314 cases; <tspan font-style="italic">n</tspan> = 14 districts</text>
<line x1="408.50" y1="486.40" x2="408.50" y2="490.40" stroke="#808285" stroke-width="1"/>
<text x="406.50" y="494.00" font-size="8.17" text-anchor="end" transform="rotate(-90 406.50 494.00)" textLength="91.30" lengthAdjust="spacingAndGlyphs" fill="#231f20">Northeast/Mid-Atlantic</text>
<text x="415.35" y="494.00" font-size="8.17" text-anchor="end" transform="rotate(-90 415.35 494.00)" textLength="100.70" lengthAdjust="spacingAndGlyphs" fill="#231f20">794 cases; <tspan font-style="italic">n</tspan> = 21 districts</text>
<line x1="433.30" y1="486.40" x2="433.30" y2="490.40" stroke="#808285" stroke-width="1"/>
<text x="431.30" y="494.00" font-size="8.17" text-anchor="end" transform="rotate(-90 431.30 494.00)" textLength="26.70" lengthAdjust="spacingAndGlyphs" fill="#231f20">Pacific</text>
<text x="440.15" y="494.00" font-size="8.17" text-anchor="end" transform="rotate(-90 440.15 494.00)" textLength="99.60" lengthAdjust="spacingAndGlyphs" fill="#231f20">660 cases; <tspan font-style="italic">n</tspan> = 9 districts</text>
<line x1="457.90" y1="486.40" x2="457.90" y2="490.40" stroke="#808285" stroke-width="1"/>
<text x="455.90" y="494.00" font-size="8.17" text-anchor="end" transform="rotate(-90 455.90 494.00)" textLength="23.90" lengthAdjust="spacingAndGlyphs" fill="#231f20">Plains</text>
<text x="464.75" y="494.00" font-size="8.17" text-anchor="end" transform="rotate(-90 464.75 494.00)" textLength="93.50" lengthAdjust="spacingAndGlyphs" fill="#231f20">32 cases; <tspan font-style="italic">n</tspan> = 6 districts</text>
<line x1="482.60" y1="486.40" x2="482.60" y2="490.40" stroke="#808285" stroke-width="1"/>
<text x="480.60" y="494.00" font-size="8.17" text-anchor="end" transform="rotate(-90 480.60 494.00)" textLength="22.90" lengthAdjust="spacingAndGlyphs" fill="#231f20">South</text>
<text x="489.45" y="494.00" font-size="8.17" text-anchor="end" transform="rotate(-90 489.45 494.00)" textLength="104.60" lengthAdjust="spacingAndGlyphs" fill="#231f20">448 cases; <tspan font-style="italic">n</tspan> = 29 districts</text>
<line x1="507.40" y1="486.40" x2="507.40" y2="490.40" stroke="#808285" stroke-width="1"/>
<text x="505.40" y="494.00" font-size="8.17" text-anchor="end" transform="rotate(-90 505.40 494.00)" textLength="64.90" lengthAdjust="spacingAndGlyphs" fill="#231f20">Western interior</text>
<text x="514.25" y="494.00" font-size="8.17" text-anchor="end" transform="rotate(-90 514.25 494.00)" textLength="96.40" lengthAdjust="spacingAndGlyphs" fill="#231f20">331 cases; <tspan font-style="italic">n</tspan> = 8 districts</text>
<line x1="42.30" y1="475.30" x2="46.50" y2="475.30" stroke="#808285" stroke-width="1"/>
<text x="38.40" y="478.10" font-size="7.90" text-anchor="end" textLength="4.60" lengthAdjust="spacingAndGlyphs" fill="#231f20">0</text>
<line x1="521.70" y1="475.30" x2="525.90" y2="475.30" stroke="#808285" stroke-width="1"/>
<text x="530.00" y="478.10" font-size="7.90" textLength="4.60" lengthAdjust="spacingAndGlyphs" fill="#231f20">0</text>
<line x1="42.30" y1="450.62" x2="46.50" y2="450.62" stroke="#808285" stroke-width="1"/>
<text x="38.40" y="453.42" font-size="7.90" text-anchor="end" textLength="8.40" lengthAdjust="spacingAndGlyphs" fill="#231f20">10</text>
<line x1="521.70" y1="450.62" x2="525.90" y2="450.62" stroke="#808285" stroke-width="1"/>
<text x="530.00" y="453.42" font-size="7.90" textLength="8.40" lengthAdjust="spacingAndGlyphs" fill="#231f20">10</text>
<line x1="42.30" y1="425.94" x2="46.50" y2="425.94" stroke="#808285" stroke-width="1"/>
<text x="38.40" y="428.74" font-size="7.90" text-anchor="end" textLength="9.10" lengthAdjust="spacingAndGlyphs" fill="#231f20">20</text>
<line x1="521.70" y1="425.94" x2="525.90" y2="425.94" stroke="#808285" stroke-width="1"/>
<text x="530.00" y="428.74" font-size="7.90" textLength="9.10" lengthAdjust="spacingAndGlyphs" fill="#231f20">20</text>
<line x1="42.30" y1="401.26" x2="46.50" y2="401.26" stroke="#808285" stroke-width="1"/>
<text x="38.40" y="404.06" font-size="7.90" text-anchor="end" textLength="9.10" lengthAdjust="spacingAndGlyphs" fill="#231f20">30</text>
<line x1="521.70" y1="401.26" x2="525.90" y2="401.26" stroke="#808285" stroke-width="1"/>
<text x="530.00" y="404.06" font-size="7.90" textLength="9.10" lengthAdjust="spacingAndGlyphs" fill="#231f20">30</text>
<line x1="42.30" y1="376.58" x2="46.50" y2="376.58" stroke="#808285" stroke-width="1"/>
<text x="38.40" y="379.38" font-size="7.90" text-anchor="end" textLength="9.10" lengthAdjust="spacingAndGlyphs" fill="#231f20">40</text>
<line x1="521.70" y1="376.58" x2="525.90" y2="376.58" stroke="#808285" stroke-width="1"/>
<text x="530.00" y="379.38" font-size="7.90" textLength="9.10" lengthAdjust="spacingAndGlyphs" fill="#231f20">40</text>
<line x1="42.30" y1="351.90" x2="46.50" y2="351.90" stroke="#808285" stroke-width="1"/>
<text x="38.40" y="354.70" font-size="7.90" text-anchor="end" textLength="9.10" lengthAdjust="spacingAndGlyphs" fill="#231f20">50</text>
<line x1="521.70" y1="351.90" x2="525.90" y2="351.90" stroke="#808285" stroke-width="1"/>
<text x="530.00" y="354.70" font-size="7.90" textLength="9.10" lengthAdjust="spacingAndGlyphs" fill="#231f20">50</text>
<line x1="42.30" y1="327.22" x2="46.50" y2="327.22" stroke="#808285" stroke-width="1"/>
<text x="38.40" y="330.02" font-size="7.90" text-anchor="end" textLength="9.10" lengthAdjust="spacingAndGlyphs" fill="#231f20">60</text>
<line x1="521.70" y1="327.22" x2="525.90" y2="327.22" stroke="#808285" stroke-width="1"/>
<text x="530.00" y="330.02" font-size="7.90" textLength="9.10" lengthAdjust="spacingAndGlyphs" fill="#231f20">60</text>
<line x1="42.30" y1="302.54" x2="46.50" y2="302.54" stroke="#808285" stroke-width="1"/>
<text x="38.40" y="305.34" font-size="7.90" text-anchor="end" textLength="9.10" lengthAdjust="spacingAndGlyphs" fill="#231f20">70</text>
<line x1="521.70" y1="302.54" x2="525.90" y2="302.54" stroke="#808285" stroke-width="1"/>
<text x="530.00" y="305.34" font-size="7.90" textLength="9.10" lengthAdjust="spacingAndGlyphs" fill="#231f20">70</text>
<line x1="42.30" y1="277.86" x2="46.50" y2="277.86" stroke="#808285" stroke-width="1"/>
<text x="38.40" y="280.66" font-size="7.90" text-anchor="end" textLength="9.10" lengthAdjust="spacingAndGlyphs" fill="#231f20">80</text>
<line x1="521.70" y1="277.86" x2="525.90" y2="277.86" stroke="#808285" stroke-width="1"/>
<text x="530.00" y="280.66" font-size="7.90" textLength="9.10" lengthAdjust="spacingAndGlyphs" fill="#231f20">80</text>
<line x1="42.30" y1="253.18" x2="46.50" y2="253.18" stroke="#808285" stroke-width="1"/>
<text x="38.40" y="255.98" font-size="7.90" text-anchor="end" textLength="9.10" lengthAdjust="spacingAndGlyphs" fill="#231f20">90</text>
<line x1="521.70" y1="253.18" x2="525.90" y2="253.18" stroke="#808285" stroke-width="1"/>
<text x="530.00" y="255.98" font-size="7.90" textLength="9.10" lengthAdjust="spacingAndGlyphs" fill="#231f20">90</text>
<text x="7.30" y="361.80" font-size="8.48" text-anchor="middle" transform="rotate(-90 7.30 361.80)" textLength="65.00" lengthAdjust="spacingAndGlyphs" fill="#231f20">Plaintiff wins (%)</text>
<text x="17.00" y="361.50" font-size="8.48" text-anchor="middle" transform="rotate(-90 17.00 361.50)" textLength="43.10" lengthAdjust="spacingAndGlyphs" fill="#231f20">(box plots)</text>
<text x="559.70" y="362.70" font-size="8.48" text-anchor="middle" transform="rotate(90 559.70 362.70)" textLength="83.80" lengthAdjust="spacingAndGlyphs" fill="#231f20">Cases per district (%)</text>
<text x="549.80" y="362.30" font-size="8.48" text-anchor="middle" transform="rotate(90 549.80 362.30)" textLength="44.80" lengthAdjust="spacingAndGlyphs" fill="#231f20">(diamonds)</text>
<line x1="61.00" y1="267.90" x2="61.00" y2="303.40" stroke="#bcbec0" stroke-width="0.9"/>
<line x1="61.00" y1="383.40" x2="61.00" y2="425.60" stroke="#bcbec0" stroke-width="0.9"/>
<rect x="51.70" y="303.40" width="18.60" height="80.00" fill="none" stroke="#6d6e70" stroke-width="0.9"/>
<line x1="51.70" y1="362.50" x2="70.30" y2="362.50" stroke="#231f20" stroke-width="1.1"/>
<line x1="85.60" y1="280.00" x2="85.60" y2="318.20" stroke="#6d6e70" stroke-width="0.9"/>
<line x1="85.60" y1="370.40" x2="85.60" y2="393.30" stroke="#6d6e70" stroke-width="0.9"/>
<rect x="76.30" y="318.20" width="18.60" height="52.20" fill="none" stroke="#6d6e70" stroke-width="0.9"/>
<line x1="76.30" y1="347.40" x2="94.90" y2="347.40" stroke="#231f20" stroke-width="1.1"/>
<line x1="110.50" y1="306.00" x2="110.50" y2="327.30" stroke="#6d6e70" stroke-width="0.9"/>
<line x1="110.50" y1="367.20" x2="110.50" y2="393.30" stroke="#6d6e70" stroke-width="0.9"/>
<rect x="101.20" y="327.30" width="18.60" height="39.90" fill="none" stroke="#6d6e70" stroke-width="0.9"/>
<line x1="101.20" y1="338.30" x2="119.80" y2="338.30" stroke="#231f20" stroke-width="1.1"/>
<line x1="135.00" y1="352.30" x2="135.00" y2="352.30" stroke="#6d6e70" stroke-width="0.9"/>
<line x1="135.00" y1="389.60" x2="135.00" y2="409.40" stroke="#6d6e70" stroke-width="0.9"/>
<rect x="125.70" y="352.30" width="18.60" height="37.30" fill="none" stroke="#6d6e70" stroke-width="0.9"/>
<line x1="125.70" y1="364.40" x2="144.30" y2="364.40" stroke="#231f20" stroke-width="1.1"/>
<line x1="159.90" y1="334.00" x2="159.90" y2="364.40" stroke="#bcbec0" stroke-width="0.9"/>
<line x1="159.90" y1="400.40" x2="159.90" y2="434.40" stroke="#bcbec0" stroke-width="0.9"/>
<rect x="150.60" y="364.40" width="18.60" height="36.00" fill="none" stroke="#6d6e70" stroke-width="0.9"/>
<line x1="150.60" y1="387.50" x2="169.20" y2="387.50" stroke="#231f20" stroke-width="1.1"/>
<line x1="184.60" y1="341.30" x2="184.60" y2="367.00" stroke="#6d6e70" stroke-width="0.9"/>
<line x1="184.60" y1="395.70" x2="184.60" y2="428.80" stroke="#6d6e70" stroke-width="0.9"/>
<rect x="175.30" y="367.00" width="18.60" height="28.70" fill="none" stroke="#6d6e70" stroke-width="0.9"/>
<line x1="175.30" y1="377.30" x2="193.90" y2="377.30" stroke="#231f20" stroke-width="1.1"/>
<line x1="46.50" y1="354.37" x2="199.40" y2="354.37" stroke="#a7a9ac" stroke-width="1.8"/>
<circle cx="61" cy="335.1" r="3.7" fill="#a7a9ac" stroke="#6d6e70" stroke-width="0.6"/>
<circle cx="85.6" cy="353.6" r="3.7" fill="#a7a9ac" stroke="#6d6e70" stroke-width="0.6"/>
<circle cx="110.5" cy="345.2" r="3.7" fill="#a7a9ac" stroke="#6d6e70" stroke-width="0.6"/>
<circle cx="135" cy="382.3" r="3.7" fill="#a7a9ac" stroke="#6d6e70" stroke-width="0.6"/>
<circle cx="159.9" cy="382.7" r="3.7" fill="#a7a9ac" stroke="#6d6e70" stroke-width="0.6"/>
<circle cx="184.6" cy="368.1" r="3.7" fill="#a7a9ac" stroke="#6d6e70" stroke-width="0.6"/>
<line x1="222.40" y1="237.70" x2="222.40" y2="264.40" stroke="#6d6e70" stroke-width="0.9"/>
<line x1="222.40" y1="302.40" x2="222.40" y2="332.60" stroke="#6d6e70" stroke-width="0.9"/>
<rect x="213.10" y="264.40" width="18.60" height="38.00" fill="none" stroke="#6d6e70" stroke-width="0.9"/>
<line x1="213.10" y1="278.50" x2="231.70" y2="278.50" stroke="#231f20" stroke-width="1.1"/>
<line x1="246.80" y1="264.70" x2="246.80" y2="287.50" stroke="#bcbec0" stroke-width="0.9"/>
<line x1="246.80" y1="312.70" x2="246.80" y2="337.20" stroke="#bcbec0" stroke-width="0.9"/>
<rect x="237.50" y="287.50" width="18.60" height="25.20" fill="none" stroke="#6d6e70" stroke-width="0.9"/>
<line x1="237.50" y1="297.40" x2="256.10" y2="297.40" stroke="#231f20" stroke-width="1.1"/>
<line x1="271.70" y1="283.30" x2="271.70" y2="295.30" stroke="#bcbec0" stroke-width="0.9"/>
<line x1="271.70" y1="316.50" x2="271.70" y2="319.00" stroke="#bcbec0" stroke-width="0.9"/>
<rect x="262.40" y="295.30" width="18.60" height="21.20" fill="none" stroke="#6d6e70" stroke-width="0.9"/>
<line x1="262.40" y1="309.00" x2="281.00" y2="309.00" stroke="#231f20" stroke-width="1.1"/>
<line x1="296.40" y1="280.50" x2="296.40" y2="286.60" stroke="#6d6e70" stroke-width="0.9"/>
<line x1="296.40" y1="316.00" x2="296.40" y2="320.60" stroke="#6d6e70" stroke-width="0.9"/>
<rect x="287.10" y="286.60" width="18.60" height="29.40" fill="none" stroke="#6d6e70" stroke-width="0.9"/>
<line x1="287.10" y1="292.60" x2="305.70" y2="292.60" stroke="#231f20" stroke-width="1.1"/>
<line x1="320.80" y1="261.40" x2="320.80" y2="297.70" stroke="#a7a9ac" stroke-width="0.9"/>
<line x1="320.80" y1="334.80" x2="320.80" y2="367.80" stroke="#a7a9ac" stroke-width="0.9"/>
<rect x="311.50" y="297.70" width="18.60" height="37.10" fill="none" stroke="#6d6e70" stroke-width="0.9"/>
<line x1="311.50" y1="311.50" x2="330.10" y2="311.50" stroke="#231f20" stroke-width="1.1"/>
<line x1="345.70" y1="272.80" x2="345.70" y2="288.40" stroke="#bcbec0" stroke-width="0.9"/>
<line x1="345.70" y1="322.60" x2="345.70" y2="330.30" stroke="#bcbec0" stroke-width="0.9"/>
<rect x="336.40" y="288.40" width="18.60" height="34.20" fill="none" stroke="#6d6e70" stroke-width="0.9"/>
<line x1="336.40" y1="302.00" x2="355.00" y2="302.00" stroke="#231f20" stroke-width="1.1"/>
<line x1="207.50" y1="300.81" x2="360.60" y2="300.81" stroke="#a7a9ac" stroke-width="1.8"/>
<circle cx="222.4" cy="286.3" r="3.7" fill="#a7a9ac" stroke="#6d6e70" stroke-width="0.6"/>
<circle cx="246.8" cy="297.9" r="3.7" fill="#a7a9ac" stroke="#6d6e70" stroke-width="0.6"/>
<circle cx="271.7" cy="312.7" r="3.7" fill="#a7a9ac" stroke="#6d6e70" stroke-width="0.6"/>
<circle cx="296.4" cy="307.7" r="3.7" fill="#a7a9ac" stroke="#6d6e70" stroke-width="0.6"/>
<circle cx="320.8" cy="314.8" r="3.7" fill="#a7a9ac" stroke="#6d6e70" stroke-width="0.6"/>
<circle cx="345.7" cy="302.4" r="3.7" fill="#a7a9ac" stroke="#6d6e70" stroke-width="0.6"/>
<line x1="383.60" y1="284.10" x2="383.60" y2="334.40" stroke="#6d6e70" stroke-width="0.9"/>
<line x1="383.60" y1="369.80" x2="383.60" y2="406.60" stroke="#6d6e70" stroke-width="0.9"/>
<rect x="374.30" y="334.40" width="18.60" height="35.40" fill="none" stroke="#6d6e70" stroke-width="0.9"/>
<line x1="374.30" y1="358.20" x2="392.90" y2="358.20" stroke="#231f20" stroke-width="1.1"/>
<line x1="408.30" y1="327.60" x2="408.30" y2="349.50" stroke="#6d6e70" stroke-width="0.9"/>
<line x1="408.30" y1="417.90" x2="408.30" y2="442.80" stroke="#6d6e70" stroke-width="0.9"/>
<rect x="399.00" y="349.50" width="18.60" height="68.40" fill="none" stroke="#6d6e70" stroke-width="0.9"/>
<line x1="399.00" y1="379.30" x2="417.60" y2="379.30" stroke="#231f20" stroke-width="1.1"/>
<line x1="433.00" y1="346.20" x2="433.00" y2="367.60" stroke="#bcbec0" stroke-width="0.9"/>
<line x1="433.00" y1="406.30" x2="433.00" y2="420.70" stroke="#bcbec0" stroke-width="0.9"/>
<rect x="423.70" y="367.60" width="18.60" height="38.70" fill="none" stroke="#6d6e70" stroke-width="0.9"/>
<line x1="423.70" y1="367.60" x2="442.30" y2="367.60" stroke="#231f20" stroke-width="1.1"/>
<line x1="457.60" y1="278.60" x2="457.60" y2="326.40" stroke="#bcbec0" stroke-width="0.9"/>
<line x1="457.60" y1="424.30" x2="457.60" y2="424.30" stroke="#bcbec0" stroke-width="0.9"/>
<rect x="448.30" y="326.40" width="18.60" height="97.90" fill="none" stroke="#6d6e70" stroke-width="0.9"/>
<line x1="448.30" y1="381.00" x2="466.90" y2="381.00" stroke="#231f20" stroke-width="1.1"/>
<line x1="482.30" y1="327.70" x2="482.30" y2="358.30" stroke="#6d6e70" stroke-width="0.9"/>
<line x1="482.30" y1="405.20" x2="482.30" y2="453.90" stroke="#6d6e70" stroke-width="0.9"/>
<rect x="473.00" y="358.30" width="18.60" height="46.90" fill="none" stroke="#6d6e70" stroke-width="0.9"/>
<line x1="473.00" y1="393.40" x2="491.60" y2="393.40" stroke="#231f20" stroke-width="1.1"/>
<line x1="507.20" y1="355.50" x2="507.20" y2="356.10" stroke="#6d6e70" stroke-width="0.9"/>
<line x1="507.20" y1="411.90" x2="507.20" y2="443.00" stroke="#6d6e70" stroke-width="0.9"/>
<rect x="497.90" y="356.10" width="18.60" height="55.80" fill="none" stroke="#6d6e70" stroke-width="0.9"/>
<line x1="497.90" y1="390.60" x2="516.50" y2="390.60" stroke="#231f20" stroke-width="1.1"/>
<line x1="369.40" y1="380.53" x2="521.70" y2="380.53" stroke="#a7a9ac" stroke-width="1.8"/>
<circle cx="383.6" cy="353.2" r="3.7" fill="#a7a9ac" stroke="#6d6e70" stroke-width="0.6"/>
<circle cx="408.3" cy="387.2" r="3.7" fill="#a7a9ac" stroke="#6d6e70" stroke-width="0.6"/>
<circle cx="433" cy="380.1" r="3.7" fill="#a7a9ac" stroke="#6d6e70" stroke-width="0.6"/>
<circle cx="457.6" cy="383.2" r="3.7" fill="#a7a9ac" stroke="#6d6e70" stroke-width="0.6"/>
<circle cx="482.3" cy="385.1" r="3.7" fill="#a7a9ac" stroke="#6d6e70" stroke-width="0.6"/>
<circle cx="507.2" cy="384.5" r="3.7" fill="#a7a9ac" stroke="#6d6e70" stroke-width="0.6"/>
<line x1="85.60" y1="393.30" x2="85.60" y2="449.70" stroke="#e6e7e8" stroke-width="0.9"/>
<path d="M60.3 432.0L61.4 432.0L61.7 433.1L61.7 434.1L61.7 435.2L61.7 436.3L61.7 437.4L61.7 438.4L61.7 439.5L61.7 440.6L61.7 441.7L61.7 442.8L61.7 443.8L61.7 444.9L61.7 446.0L61.8 447.1L61.8 448.1L61.9 449.2L62.0 450.3L62.1 451.4L62.3 452.4L62.6 453.5L63.0 454.6L63.4 455.6L63.9 456.7L64.4 457.8L65.1 458.9L65.7 459.9L66.3 461.0L66.9 462.1L67.4 463.2L67.8 464.2L68.0 465.3L68.0 466.4L67.8 467.5L67.5 468.6L67.1 469.6L66.5 470.7L65.9 471.8L65.2 472.9L64.6 473.9L62.6 475.0L60.3 475.0Z" fill="#5b3f9c" fill-opacity="0.55"/>
<path d="M85.0 452.0L86.1 452.0L86.3 452.6L86.4 453.1L86.4 453.7L86.4 454.3L86.4 454.9L86.4 455.4L86.4 456.0L86.4 456.6L86.4 457.2L86.4 457.8L86.4 458.3L86.4 458.9L86.4 459.5L86.5 460.1L86.5 460.6L86.6 461.2L86.7 461.8L86.8 462.4L87.1 462.9L87.4 463.5L87.9 464.1L88.5 464.6L89.3 465.2L90.3 465.8L91.4 466.4L92.6 466.9L93.8 467.5L95.1 468.1L96.2 468.7L97.0 469.2L97.6 469.8L97.9 470.4L97.8 471.0L97.3 471.6L96.5 472.1L95.5 472.7L94.3 473.3L93.0 473.9L91.3 474.4L88.3 475.0L85.0 475.0Z" fill="#4b4496" fill-opacity="0.55"/>
<path d="M109.8 412.0L110.9 412.0L111.2 413.5L111.2 415.0L111.2 416.5L111.2 418.0L111.2 419.5L111.2 421.0L111.3 422.5L111.3 424.0L111.4 425.5L111.5 427.0L111.6 428.5L111.8 430.0L112.1 431.5L112.4 433.0L112.7 434.5L113.0 436.0L113.2 437.5L113.4 439.0L113.4 440.5L113.3 442.0L113.1 443.5L112.8 445.0L112.5 446.5L112.2 448.0L111.9 449.5L111.7 451.0L111.5 452.5L111.4 454.0L111.3 455.5L111.3 457.0L111.2 458.5L111.2 460.0L111.2 461.5L111.2 463.0L111.2 464.5L111.2 466.0L111.2 467.5L111.2 469.0L111.2 470.5L110.9 472.0L109.8 472.0Z" fill="#3c7ca4" fill-opacity="0.55"/>
<path d="M134.4 409.0L135.5 409.0L135.8 410.0L135.8 411.0L135.8 412.0L135.8 413.0L135.8 414.0L135.8 415.0L135.8 416.0L135.8 417.0L135.8 418.0L135.8 419.0L135.8 420.0L135.8 421.0L135.8 422.0L135.8 423.0L135.9 424.0L135.9 425.0L136.0 426.0L136.1 427.0L136.2 428.0L136.4 429.0L136.7 430.0L137.1 431.0L137.5 432.0L138.0 433.0L138.6 434.0L139.2 435.0L139.9 436.0L140.5 437.0L141.0 438.0L141.4 439.0L141.7 440.0L141.8 441.0L141.7 442.0L141.4 443.0L141.0 444.0L140.5 445.0L139.9 446.0L139.2 447.0L138.6 448.0L136.7 449.0L134.4 449.0Z" fill="#2fa57f" fill-opacity="0.55"/>
<path d="M159.2 452.0L160.3 452.0L160.5 452.6L160.6 453.1L160.6 453.7L160.6 454.3L160.6 454.9L160.6 455.4L160.6 456.0L160.6 456.6L160.6 457.2L160.6 457.8L160.6 458.3L160.6 458.9L160.6 459.5L160.7 460.1L160.7 460.6L160.8 461.2L160.9 461.8L161.1 462.4L161.4 462.9L161.7 463.5L162.2 464.1L162.8 464.6L163.5 465.2L164.3 465.8L165.2 466.4L166.2 466.9L167.2 467.5L168.1 468.1L168.9 468.7L169.4 469.2L169.8 469.8L169.9 470.4L169.7 471.0L169.3 471.6L168.6 472.1L167.8 472.7L166.8 473.3L165.9 473.9L164.5 474.4L162.1 475.0L159.2 475.0Z" fill="#55b23a" fill-opacity="0.55"/>
<path d="M183.9 417.0L185.0 417.0L185.3 418.3L185.3 419.6L185.3 421.0L185.3 422.3L185.3 423.6L185.3 424.9L185.3 426.3L185.3 427.6L185.4 428.9L185.4 430.2L185.5 431.6L185.6 432.9L185.8 434.2L186.0 435.6L186.2 436.9L186.4 438.2L186.7 439.5L186.9 440.9L187.1 442.2L187.2 443.5L187.3 444.8L187.3 446.1L187.2 447.5L187.0 448.8L186.7 450.1L186.5 451.4L186.2 452.8L186.0 454.1L185.8 455.4L185.7 456.8L185.5 458.1L185.5 459.4L185.4 460.7L185.4 462.1L185.3 463.4L185.3 464.7L185.3 466.0L185.3 467.4L185.3 468.7L185.0 470.0L183.9 470.0Z" fill="#b5d93f" fill-opacity="0.55"/>
<path d="M221.7 446.0L222.8 446.0L223.1 446.7L223.1 447.4L223.2 448.0L223.2 448.7L223.2 449.4L223.3 450.1L223.3 450.7L223.4 451.4L223.5 452.1L223.6 452.8L223.8 453.4L224.0 454.1L224.2 454.8L224.4 455.4L224.7 456.1L225.0 456.8L225.4 457.5L225.7 458.1L226.1 458.8L226.5 459.5L226.9 460.2L227.3 460.9L227.7 461.5L228.0 462.2L228.2 462.9L228.4 463.6L228.5 464.2L228.6 464.9L228.6 465.6L228.5 466.2L228.3 466.9L228.0 467.6L227.8 468.3L227.4 468.9L227.0 469.6L226.6 470.3L226.2 471.0L225.9 471.6L225.4 472.3L223.9 473.0L221.7 473.0Z" fill="#4d0f63" fill-opacity="0.55"/>
<path d="M246.1 438.0L247.2 438.0L247.5 438.9L247.5 439.8L247.5 440.7L247.5 441.6L247.5 442.5L247.5 443.4L247.5 444.3L247.5 445.2L247.5 446.1L247.5 447.0L247.5 447.9L247.5 448.8L247.5 449.7L247.5 450.6L247.6 451.5L247.6 452.4L247.7 453.3L247.9 454.2L248.1 455.1L248.4 456.0L248.8 456.9L249.4 457.8L250.1 458.7L250.9 459.6L251.9 460.5L253.0 461.4L254.2 462.3L255.3 463.2L256.3 464.1L257.2 465.0L257.7 465.9L258.0 466.8L257.9 467.7L257.5 468.6L256.7 469.5L255.8 470.4L254.7 471.3L253.5 472.2L252.4 473.1L249.2 474.0L246.1 474.0Z" fill="#4f5ea8" fill-opacity="0.55"/>
<path d="M271.0 418.0L272.1 418.0L272.4 419.3L272.4 420.6L272.4 421.9L272.4 423.2L272.4 424.5L272.4 425.8L272.4 427.1L272.4 428.4L272.4 429.7L272.4 431.0L272.4 432.3L272.5 433.6L272.5 434.9L272.6 436.2L272.7 437.5L272.9 438.8L273.1 440.1L273.3 441.4L273.5 442.7L273.8 444.0L274.1 445.3L274.3 446.6L274.5 447.9L274.6 449.2L274.6 450.5L274.5 451.8L274.4 453.1L274.1 454.4L273.9 455.7L273.6 457.0L273.3 458.3L273.1 459.6L272.9 460.9L272.8 462.2L272.6 463.5L272.5 464.8L272.5 466.1L272.5 467.4L272.4 468.7L272.1 470.0L271.0 470.0Z" fill="#35a0a0" fill-opacity="0.55"/>
<path d="M295.7 401.0L296.8 401.0L297.1 402.5L297.1 404.0L297.1 405.5L297.1 407.0L297.1 408.5L297.1 410.0L297.1 411.5L297.1 413.0L297.1 414.5L297.1 416.0L297.1 417.5L297.1 419.0L297.1 420.5L297.1 422.0L297.1 423.5L297.1 425.0L297.1 426.5L297.1 428.0L297.1 429.5L297.1 431.0L297.2 432.5L297.2 434.0L297.3 435.5L297.5 437.0L297.7 438.5L298.0 440.0L298.3 441.5L298.7 443.0L299.2 444.5L299.6 446.0L299.9 447.5L300.1 449.0L300.1 450.5L300.0 452.0L299.7 453.5L299.3 455.0L298.9 456.5L298.5 458.0L298.1 459.5L297.1 461.0L295.7 461.0Z" fill="#33a49b" fill-opacity="0.55"/>
<path d="M320.1 451.0L321.2 451.0L321.5 451.6L321.5 452.2L321.5 452.8L321.5 453.4L321.5 454.0L321.5 454.6L321.5 455.2L321.5 455.8L321.5 456.4L321.5 457.0L321.5 457.6L321.5 458.2L321.5 458.8L321.5 459.4L321.5 460.0L321.6 460.6L321.6 461.2L321.7 461.8L321.9 462.4L322.1 463.0L322.4 463.6L322.8 464.2L323.4 464.8L324.1 465.4L325.0 466.0L326.0 466.6L327.0 467.2L328.1 467.8L329.1 468.4L330.0 469.0L330.6 469.6L331.0 470.2L331.0 470.8L330.6 471.4L330.0 472.0L329.1 472.6L328.1 473.2L327.0 473.8L325.6 474.4L323.0 475.0L320.1 475.0Z" fill="#36a85a" fill-opacity="0.55"/>
<path d="M345.0 416.0L346.1 416.0L346.4 417.1L346.4 418.2L346.4 419.4L346.4 420.5L346.4 421.6L346.4 422.8L346.4 423.9L346.4 425.0L346.4 426.1L346.5 427.2L346.5 428.4L346.5 429.5L346.6 430.6L346.7 431.8L346.8 432.9L347.0 434.0L347.2 435.1L347.4 436.2L347.6 437.4L347.9 438.5L348.2 439.6L348.4 440.8L348.6 441.9L348.8 443.0L348.9 444.1L348.9 445.2L348.8 446.4L348.7 447.5L348.5 448.6L348.3 449.8L348.0 450.9L347.8 452.0L347.5 453.1L347.3 454.2L347.1 455.4L346.9 456.5L346.7 457.6L346.6 458.8L346.6 459.9L346.1 461.0L345.0 461.0Z" fill="#fde42c" fill-opacity="0.55"/>
<path d="M382.9 440.0L384.0 440.0L384.4 440.7L384.5 441.4L384.6 442.1L384.6 442.8L384.7 443.5L384.9 444.2L385.0 444.9L385.2 445.6L385.4 446.3L385.6 447.0L385.9 447.7L386.2 448.4L386.6 449.1L386.9 449.8L387.3 450.5L387.7 451.2L388.1 451.9L388.5 452.6L388.9 453.3L389.2 454.0L389.5 454.7L389.8 455.4L390.0 456.1L390.2 456.8L390.3 457.5L390.3 458.2L390.2 458.9L390.1 459.6L389.9 460.3L389.7 461.0L389.4 461.7L389.0 462.4L388.7 463.1L388.3 463.8L387.9 464.5L387.5 465.2L387.1 465.9L386.7 466.6L386.4 467.3L384.9 468.0L382.9 468.0Z" fill="#4b1a78" fill-opacity="0.55"/>
<path d="M407.6 408.0L408.7 408.0L409.0 409.7L409.0 411.4L409.0 413.0L409.0 414.7L409.0 416.4L409.0 418.1L409.0 419.7L409.0 421.4L409.0 423.1L409.0 424.8L409.0 426.4L409.0 428.1L409.0 429.8L409.0 431.4L409.0 433.1L409.0 434.8L409.0 436.5L409.0 438.1L409.0 439.8L409.0 441.5L409.0 443.2L409.0 444.9L409.0 446.5L409.0 448.2L409.0 449.9L409.0 451.6L409.0 453.2L409.0 454.9L409.0 456.6L409.0 458.2L409.0 459.9L409.2 461.6L409.8 463.3L411.2 464.9L413.8 466.6L416.9 468.3L418.9 470.0L418.4 471.6L415.7 473.3L410.6 475.0L407.6 475.0Z" fill="#3e6ea8" fill-opacity="0.55"/>
<path d="M432.3 421.0L433.4 421.0L433.7 422.2L433.7 423.4L433.7 424.7L433.7 425.9L433.8 427.1L433.8 428.4L433.9 429.6L433.9 430.8L434.1 432.0L434.2 433.2L434.5 434.5L434.7 435.7L435.0 436.9L435.4 438.1L435.7 439.4L436.1 440.6L436.3 441.8L436.6 443.1L436.7 444.3L436.7 445.5L436.6 446.7L436.4 447.9L436.1 449.2L435.8 450.4L435.4 451.6L435.1 452.9L434.8 454.1L434.5 455.3L434.3 456.5L434.1 457.8L434.0 459.0L433.9 460.2L433.8 461.4L433.8 462.6L433.7 463.9L433.7 465.1L433.7 466.3L433.7 467.6L433.7 468.8L433.4 470.0L432.3 470.0Z" fill="#3a8dab" fill-opacity="0.55"/>
<path d="M456.9 423.0L458.3 423.0L459.0 423.8L459.2 424.5L459.4 425.2L459.6 426.0L459.8 426.8L460.0 427.5L460.3 428.2L460.5 429.0L460.8 429.8L461.0 430.5L461.2 431.2L461.4 432.0L461.6 432.8L461.7 433.5L461.8 434.2L461.8 435.0L461.8 435.8L461.7 436.5L461.6 437.2L461.4 438.0L461.2 438.8L461.0 439.5L460.8 440.2L460.5 441.0L460.3 441.8L460.0 442.5L459.8 443.2L459.6 444.0L459.4 444.8L459.2 445.5L459.0 446.2L458.9 447.0L458.8 447.8L458.7 448.5L458.6 449.2L458.5 450.0L458.5 450.8L458.4 451.5L458.4 452.2L458.0 453.0L456.9 453.0Z" fill="#20a386" fill-opacity="0.55"/>
<path d="M481.6 456.0L482.7 456.0L482.9 456.5L483.0 456.9L483.0 457.4L483.0 457.9L483.0 458.4L483.0 458.9L483.0 459.3L483.0 459.8L483.1 460.3L483.1 460.8L483.2 461.2L483.2 461.7L483.4 462.2L483.5 462.6L483.8 463.1L484.1 463.6L484.5 464.1L485.0 464.6L485.6 465.0L486.3 465.5L487.1 466.0L488.0 466.4L489.0 466.9L490.0 467.4L491.0 467.9L492.0 468.4L492.8 468.8L493.5 469.3L494.0 469.8L494.3 470.2L494.3 470.7L494.0 471.2L493.6 471.7L492.9 472.1L492.0 472.6L491.1 473.1L490.1 473.6L489.1 474.1L487.2 474.5L484.9 475.0L481.6 475.0Z" fill="#49b84e" fill-opacity="0.55"/>
<path d="M506.5 410.0L507.6 410.0L507.9 411.2L507.9 412.4L507.9 413.6L507.9 414.8L507.9 416.0L507.9 417.2L507.9 418.4L507.9 419.6L507.9 420.8L507.9 422.0L507.9 423.2L507.9 424.4L507.9 425.6L507.9 426.8L507.9 428.0L508.0 429.2L508.0 430.4L508.1 431.6L508.3 432.8L508.5 434.0L508.7 435.2L509.1 436.4L509.6 437.6L510.1 438.8L510.8 440.0L511.5 441.2L512.2 442.4L512.9 443.6L513.5 444.8L513.9 446.0L514.2 447.2L514.2 448.4L514.0 449.6L513.6 450.8L513.1 452.0L512.4 453.2L511.7 454.4L511.0 455.6L510.3 456.8L508.6 458.0L506.5 458.0Z" fill="#d4df23" fill-opacity="0.55"/>
<path d="M61.0 428.4L64.9 432.1L61.0 435.8L57.1 432.1Z" fill="#5b3f9c" fill-opacity="0.72" stroke="#111" stroke-opacity="0.3" stroke-width="0.75"/>
<path d="M61.0 437.5L64.9 441.2L61.0 444.9L57.1 441.2Z" fill="#5b3f9c" fill-opacity="0.72" stroke="#111" stroke-opacity="0.8" stroke-width="0.75"/>
<path d="M61.0 446.7L64.9 450.4L61.0 454.1L57.1 450.4Z" fill="#5b3f9c" fill-opacity="0.72" stroke="#111" stroke-opacity="0.3" stroke-width="0.75"/>
<path d="M61.0 453.4L64.9 457.1L61.0 460.8L57.1 457.1Z" fill="#5b3f9c" fill-opacity="0.72" stroke="#111" stroke-opacity="0.8" stroke-width="0.75"/>
<path d="M61.0 457.1L64.9 460.8L61.0 464.5L57.1 460.8Z" fill="#5b3f9c" fill-opacity="0.72" stroke="#111" stroke-opacity="0.8" stroke-width="0.75"/>
<path d="M61.0 460.1L64.9 463.8L61.0 467.5L57.1 463.8Z" fill="#5b3f9c" fill-opacity="0.72" stroke="#111" stroke-opacity="0.8" stroke-width="0.75"/>
<path d="M61.0 462.4L64.9 466.1L61.0 469.8L57.1 466.1Z" fill="#5b3f9c" fill-opacity="0.72" stroke="#111" stroke-opacity="0.8" stroke-width="0.75"/>
<path d="M61.0 465.0L64.9 468.7L61.0 472.4L57.1 468.7Z" fill="#5b3f9c" fill-opacity="0.72" stroke="#111" stroke-opacity="0.8" stroke-width="0.75"/>
<path d="M61.0 468.3L64.9 472.0L61.0 475.7L57.1 472.0Z" fill="#5b3f9c" fill-opacity="0.72" stroke="#111" stroke-opacity="0.8" stroke-width="0.75"/>
<path d="M85.7 368.3L89.6 372.0L85.7 375.7L81.8 372.0Z" fill="#4b4496" fill-opacity="0.72" stroke="#111" stroke-opacity="0.8" stroke-width="0.75"/>
<path d="M85.7 449.1L89.6 452.8L85.7 456.5L81.8 452.8Z" fill="#4b4496" fill-opacity="0.72" stroke="#111" stroke-opacity="0.3" stroke-width="0.75"/>
<path d="M85.7 456.4L89.6 460.1L85.7 463.8L81.8 460.1Z" fill="#4b4496" fill-opacity="0.72" stroke="#111" stroke-opacity="0.8" stroke-width="0.75"/>
<path d="M85.7 458.5L89.6 462.2L85.7 465.9L81.8 462.2Z" fill="#4b4496" fill-opacity="0.72" stroke="#111" stroke-opacity="0.8" stroke-width="0.75"/>
<path d="M85.7 460.3L89.6 464.0L85.7 467.7L81.8 464.0Z" fill="#4b4496" fill-opacity="0.72" stroke="#111" stroke-opacity="0.8" stroke-width="0.75"/>
<path d="M85.7 462.0L89.6 465.7L85.7 469.4L81.8 465.7Z" fill="#4b4496" fill-opacity="0.72" stroke="#111" stroke-opacity="0.8" stroke-width="0.75"/>
<path d="M85.7 463.4L89.6 467.1L85.7 470.8L81.8 467.1Z" fill="#4b4496" fill-opacity="0.72" stroke="#111" stroke-opacity="0.8" stroke-width="0.75"/>
<path d="M85.7 464.4L89.6 468.1L85.7 471.8L81.8 468.1Z" fill="#4b4496" fill-opacity="0.72" stroke="#111" stroke-opacity="0.8" stroke-width="0.75"/>
<path d="M85.7 465.4L89.6 469.1L85.7 472.8L81.8 469.1Z" fill="#4b4496" fill-opacity="0.72" stroke="#111" stroke-opacity="0.8" stroke-width="0.75"/>
<path d="M85.7 466.5L89.6 470.2L85.7 473.9L81.8 470.2Z" fill="#4b4496" fill-opacity="0.72" stroke="#111" stroke-opacity="0.8" stroke-width="0.75"/>
<path d="M85.7 467.9L89.6 471.6L85.7 475.3L81.8 471.6Z" fill="#4b4496" fill-opacity="0.72" stroke="#111" stroke-opacity="0.8" stroke-width="0.75"/>
<path d="M85.7 469.4L89.6 473.1L85.7 476.8L81.8 473.1Z" fill="#4b4496" fill-opacity="0.72" stroke="#111" stroke-opacity="0.8" stroke-width="0.75"/>
<path d="M110.5 408.9L114.4 412.6L110.5 416.3L106.6 412.6Z" fill="#3c7ca4" fill-opacity="0.72" stroke="#111" stroke-opacity="0.3" stroke-width="0.75"/>
<path d="M110.5 430.5L114.4 434.2L110.5 437.9L106.6 434.2Z" fill="#3c7ca4" fill-opacity="0.72" stroke="#111" stroke-opacity="0.8" stroke-width="0.75"/>
<path d="M110.5 432.3L114.4 436.0L110.5 439.7L106.6 436.0Z" fill="#3c7ca4" fill-opacity="0.72" stroke="#111" stroke-opacity="0.8" stroke-width="0.75"/>
<path d="M110.5 433.8L114.4 437.5L110.5 441.2L106.6 437.5Z" fill="#3c7ca4" fill-opacity="0.72" stroke="#111" stroke-opacity="0.8" stroke-width="0.75"/>
<path d="M110.5 435.1L114.4 438.8L110.5 442.5L106.6 438.8Z" fill="#3c7ca4" fill-opacity="0.72" stroke="#111" stroke-opacity="0.8" stroke-width="0.75"/>
<path d="M110.5 462.6L114.4 466.3L110.5 470.0L106.6 466.3Z" fill="#3c7ca4" fill-opacity="0.72" stroke="#111" stroke-opacity="0.8" stroke-width="0.75"/>
<path d="M110.5 464.8L114.4 468.5L110.5 472.2L106.6 468.5Z" fill="#3c7ca4" fill-opacity="0.72" stroke="#111" stroke-opacity="0.8" stroke-width="0.75"/>
<path d="M110.5 465.3L114.4 469.0L110.5 472.7L106.6 469.0Z" fill="#3c7ca4" fill-opacity="0.72" stroke="#111" stroke-opacity="0.8" stroke-width="0.75"/>
<path d="M110.5 466.8L114.4 470.5L110.5 474.2L106.6 470.5Z" fill="#3c7ca4" fill-opacity="0.72" stroke="#111" stroke-opacity="0.8" stroke-width="0.75"/>
<path d="M135.1 405.2L139.0 408.9L135.1 412.6L131.2 408.9Z" fill="#2fa57f" fill-opacity="0.72" stroke="#111" stroke-opacity="0.3" stroke-width="0.75"/>
<path d="M135.1 431.7L139.0 435.4L135.1 439.1L131.2 435.4Z" fill="#2fa57f" fill-opacity="0.72" stroke="#111" stroke-opacity="0.8" stroke-width="0.75"/>
<path d="M135.1 436.3L139.0 440.0L135.1 443.7L131.2 440.0Z" fill="#2fa57f" fill-opacity="0.72" stroke="#111" stroke-opacity="0.8" stroke-width="0.75"/>
<path d="M135.1 438.3L139.0 442.0L135.1 445.7L131.2 442.0Z" fill="#2fa57f" fill-opacity="0.72" stroke="#111" stroke-opacity="0.8" stroke-width="0.75"/>
<path d="M135.1 442.3L139.0 446.0L135.1 449.7L131.2 446.0Z" fill="#2fa57f" fill-opacity="0.72" stroke="#111" stroke-opacity="0.8" stroke-width="0.75"/>
<path d="M135.1 444.7L139.0 448.4L135.1 452.1L131.2 448.4Z" fill="#2fa57f" fill-opacity="0.72" stroke="#111" stroke-opacity="0.8" stroke-width="0.75"/>
<path d="M159.9 448.6L163.8 452.3L159.9 456.0L156.0 452.3Z" fill="#55b23a" fill-opacity="0.72" stroke="#111" stroke-opacity="0.3" stroke-width="0.75"/>
<path d="M159.9 453.3L163.8 457.0L159.9 460.7L156.0 457.0Z" fill="#55b23a" fill-opacity="0.72" stroke="#111" stroke-opacity="0.8" stroke-width="0.75"/>
<path d="M159.9 455.2L163.8 458.9L159.9 462.6L156.0 458.9Z" fill="#55b23a" fill-opacity="0.72" stroke="#111" stroke-opacity="0.8" stroke-width="0.75"/>
<path d="M159.9 456.9L163.8 460.6L159.9 464.3L156.0 460.6Z" fill="#55b23a" fill-opacity="0.72" stroke="#111" stroke-opacity="0.8" stroke-width="0.75"/>
<path d="M159.9 458.6L163.8 462.3L159.9 466.0L156.0 462.3Z" fill="#55b23a" fill-opacity="0.72" stroke="#111" stroke-opacity="0.8" stroke-width="0.75"/>
<path d="M159.9 460.1L163.8 463.8L159.9 467.5L156.0 463.8Z" fill="#55b23a" fill-opacity="0.72" stroke="#111" stroke-opacity="0.8" stroke-width="0.75"/>
<path d="M159.9 461.4L163.8 465.1L159.9 468.8L156.0 465.1Z" fill="#55b23a" fill-opacity="0.72" stroke="#111" stroke-opacity="0.8" stroke-width="0.75"/>
<path d="M159.9 462.6L163.8 466.3L159.9 470.0L156.0 466.3Z" fill="#55b23a" fill-opacity="0.72" stroke="#111" stroke-opacity="0.8" stroke-width="0.75"/>
<path d="M159.9 463.5L163.8 467.2L159.9 470.9L156.0 467.2Z" fill="#55b23a" fill-opacity="0.72" stroke="#111" stroke-opacity="0.8" stroke-width="0.75"/>
<path d="M159.9 464.3L163.8 468.0L159.9 471.7L156.0 468.0Z" fill="#55b23a" fill-opacity="0.72" stroke="#111" stroke-opacity="0.8" stroke-width="0.75"/>
<path d="M159.9 465.2L163.8 468.9L159.9 472.6L156.0 468.9Z" fill="#55b23a" fill-opacity="0.72" stroke="#111" stroke-opacity="0.8" stroke-width="0.75"/>
<path d="M159.9 466.2L163.8 469.9L159.9 473.6L156.0 469.9Z" fill="#55b23a" fill-opacity="0.72" stroke="#111" stroke-opacity="0.8" stroke-width="0.75"/>
<path d="M159.9 467.3L163.8 471.0L159.9 474.7L156.0 471.0Z" fill="#55b23a" fill-opacity="0.72" stroke="#111" stroke-opacity="0.8" stroke-width="0.75"/>
<path d="M159.9 468.6L163.8 472.3L159.9 476.0L156.0 472.3Z" fill="#55b23a" fill-opacity="0.72" stroke="#111" stroke-opacity="0.8" stroke-width="0.75"/>
<path d="M159.9 470.0L163.8 473.7L159.9 477.4L156.0 473.7Z" fill="#55b23a" fill-opacity="0.72" stroke="#111" stroke-opacity="0.8" stroke-width="0.75"/>
<path d="M184.6 413.5L188.5 417.2L184.6 420.9L180.7 417.2Z" fill="#b5d93f" fill-opacity="0.72" stroke="#111" stroke-opacity="0.3" stroke-width="0.75"/>
<path d="M184.6 425.1L188.5 428.8L184.6 432.5L180.7 428.8Z" fill="#b5d93f" fill-opacity="0.72" stroke="#111" stroke-opacity="0.8" stroke-width="0.75"/>
<path d="M184.6 425.8L188.5 429.5L184.6 433.2L180.7 429.5Z" fill="#b5d93f" fill-opacity="0.72" stroke="#111" stroke-opacity="0.8" stroke-width="0.75"/>
<path d="M184.6 435.5L188.5 439.2L184.6 442.9L180.7 439.2Z" fill="#b5d93f" fill-opacity="0.72" stroke="#111" stroke-opacity="0.8" stroke-width="0.75"/>
<path d="M184.6 447.1L188.5 450.8L184.6 454.5L180.7 450.8Z" fill="#b5d93f" fill-opacity="0.72" stroke="#111" stroke-opacity="0.8" stroke-width="0.75"/>
<path d="M184.6 453.3L188.5 457.0L184.6 460.7L180.7 457.0Z" fill="#b5d93f" fill-opacity="0.72" stroke="#111" stroke-opacity="0.8" stroke-width="0.75"/>
<path d="M184.6 459.7L188.5 463.4L184.6 467.1L180.7 463.4Z" fill="#b5d93f" fill-opacity="0.72" stroke="#111" stroke-opacity="0.8" stroke-width="0.75"/>
<path d="M184.6 466.0L188.5 469.7L184.6 473.4L180.7 469.7Z" fill="#b5d93f" fill-opacity="0.72" stroke="#111" stroke-opacity="0.8" stroke-width="0.75"/>
<path d="M222.4 441.0L226.3 444.7L222.4 448.4L218.5 444.7Z" fill="#4d0f63" fill-opacity="0.72" stroke="#111" stroke-opacity="0.8" stroke-width="0.75"/>
<path d="M222.4 445.4L226.3 449.1L222.4 452.8L218.5 449.1Z" fill="#4d0f63" fill-opacity="0.72" stroke="#111" stroke-opacity="0.8" stroke-width="0.75"/>
<path d="M222.4 449.2L226.3 452.9L222.4 456.6L218.5 452.9Z" fill="#4d0f63" fill-opacity="0.72" stroke="#111" stroke-opacity="0.8" stroke-width="0.75"/>
<path d="M222.4 452.4L226.3 456.1L222.4 459.8L218.5 456.1Z" fill="#4d0f63" fill-opacity="0.72" stroke="#111" stroke-opacity="0.8" stroke-width="0.75"/>
<path d="M222.4 455.2L226.3 458.9L222.4 462.6L218.5 458.9Z" fill="#4d0f63" fill-opacity="0.72" stroke="#111" stroke-opacity="0.8" stroke-width="0.75"/>
<path d="M222.4 457.3L226.3 461.0L222.4 464.7L218.5 461.0Z" fill="#4d0f63" fill-opacity="0.72" stroke="#111" stroke-opacity="0.8" stroke-width="0.75"/>
<path d="M222.4 459.5L226.3 463.2L222.4 466.9L218.5 463.2Z" fill="#4d0f63" fill-opacity="0.72" stroke="#111" stroke-opacity="0.8" stroke-width="0.75"/>
<path d="M222.4 462.2L226.3 465.9L222.4 469.6L218.5 465.9Z" fill="#4d0f63" fill-opacity="0.72" stroke="#111" stroke-opacity="0.8" stroke-width="0.75"/>
<path d="M222.4 465.5L226.3 469.2L222.4 472.9L218.5 469.2Z" fill="#4d0f63" fill-opacity="0.72" stroke="#111" stroke-opacity="0.8" stroke-width="0.75"/>
<path d="M246.8 434.4L250.7 438.1L246.8 441.8L242.9 438.1Z" fill="#4f5ea8" fill-opacity="0.72" stroke="#111" stroke-opacity="0.3" stroke-width="0.75"/>
<path d="M246.8 440.2L250.7 443.9L246.8 447.6L242.9 443.9Z" fill="#4f5ea8" fill-opacity="0.72" stroke="#111" stroke-opacity="0.8" stroke-width="0.75"/>
<path d="M246.8 448.5L250.7 452.2L246.8 455.9L242.9 452.2Z" fill="#4f5ea8" fill-opacity="0.72" stroke="#111" stroke-opacity="0.8" stroke-width="0.75"/>
<path d="M246.8 456.4L250.7 460.1L246.8 463.8L242.9 460.1Z" fill="#4f5ea8" fill-opacity="0.72" stroke="#111" stroke-opacity="0.8" stroke-width="0.75"/>
<path d="M246.8 458.4L250.7 462.1L246.8 465.8L242.9 462.1Z" fill="#4f5ea8" fill-opacity="0.72" stroke="#111" stroke-opacity="0.8" stroke-width="0.75"/>
<path d="M246.8 460.2L250.7 463.9L246.8 467.6L242.9 463.9Z" fill="#4f5ea8" fill-opacity="0.72" stroke="#111" stroke-opacity="0.8" stroke-width="0.75"/>
<path d="M246.8 461.7L250.7 465.4L246.8 469.1L242.9 465.4Z" fill="#4f5ea8" fill-opacity="0.72" stroke="#111" stroke-opacity="0.8" stroke-width="0.75"/>
<path d="M246.8 463.0L250.7 466.7L246.8 470.4L242.9 466.7Z" fill="#4f5ea8" fill-opacity="0.72" stroke="#111" stroke-opacity="0.8" stroke-width="0.75"/>
<path d="M246.8 464.1L250.7 467.8L246.8 471.5L242.9 467.8Z" fill="#4f5ea8" fill-opacity="0.72" stroke="#111" stroke-opacity="0.8" stroke-width="0.75"/>
<path d="M246.8 465.6L250.7 469.3L246.8 473.0L242.9 469.3Z" fill="#4f5ea8" fill-opacity="0.72" stroke="#111" stroke-opacity="0.8" stroke-width="0.75"/>
<path d="M246.8 467.3L250.7 471.0L246.8 474.7L242.9 471.0Z" fill="#4f5ea8" fill-opacity="0.72" stroke="#111" stroke-opacity="0.8" stroke-width="0.75"/>
<path d="M246.8 469.2L250.7 472.9L246.8 476.6L242.9 472.9Z" fill="#4f5ea8" fill-opacity="0.72" stroke="#111" stroke-opacity="0.8" stroke-width="0.75"/>
<path d="M271.7 415.0L275.6 418.7L271.7 422.4L267.8 418.7Z" fill="#35a0a0" fill-opacity="0.72" stroke="#111" stroke-opacity="0.3" stroke-width="0.75"/>
<path d="M271.7 425.6L275.6 429.3L271.7 433.0L267.8 429.3Z" fill="#35a0a0" fill-opacity="0.72" stroke="#111" stroke-opacity="0.8" stroke-width="0.75"/>
<path d="M271.7 436.1L275.6 439.8L271.7 443.5L267.8 439.8Z" fill="#35a0a0" fill-opacity="0.72" stroke="#111" stroke-opacity="0.8" stroke-width="0.75"/>
<path d="M271.7 444.3L275.6 448.0L271.7 451.7L267.8 448.0Z" fill="#35a0a0" fill-opacity="0.72" stroke="#111" stroke-opacity="0.8" stroke-width="0.75"/>
<path d="M271.7 445.3L275.6 449.0L271.7 452.7L267.8 449.0Z" fill="#35a0a0" fill-opacity="0.72" stroke="#111" stroke-opacity="0.8" stroke-width="0.75"/>
<path d="M271.7 450.2L275.6 453.9L271.7 457.6L267.8 453.9Z" fill="#35a0a0" fill-opacity="0.72" stroke="#111" stroke-opacity="0.8" stroke-width="0.75"/>
<path d="M271.7 456.0L275.6 459.7L271.7 463.4L267.8 459.7Z" fill="#35a0a0" fill-opacity="0.72" stroke="#111" stroke-opacity="0.8" stroke-width="0.75"/>
<path d="M271.7 461.8L275.6 465.5L271.7 469.2L267.8 465.5Z" fill="#35a0a0" fill-opacity="0.72" stroke="#111" stroke-opacity="0.8" stroke-width="0.75"/>
<path d="M271.7 466.4L275.6 470.1L271.7 473.8L267.8 470.1Z" fill="#35a0a0" fill-opacity="0.72" stroke="#111" stroke-opacity="0.8" stroke-width="0.75"/>
<path d="M296.4 397.9L300.3 401.6L296.4 405.3L292.5 401.6Z" fill="#33a49b" fill-opacity="0.72" stroke="#111" stroke-opacity="0.3" stroke-width="0.75"/>
<path d="M296.4 420.3L300.3 424.0L296.4 427.7L292.5 424.0Z" fill="#33a49b" fill-opacity="0.72" stroke="#111" stroke-opacity="0.8" stroke-width="0.75"/>
<path d="M296.4 438.5L300.3 442.2L296.4 445.9L292.5 442.2Z" fill="#33a49b" fill-opacity="0.72" stroke="#111" stroke-opacity="0.8" stroke-width="0.75"/>
<path d="M296.4 442.7L300.3 446.4L296.4 450.1L292.5 446.4Z" fill="#33a49b" fill-opacity="0.72" stroke="#111" stroke-opacity="0.8" stroke-width="0.75"/>
<path d="M296.4 444.3L300.3 448.0L296.4 451.7L292.5 448.0Z" fill="#33a49b" fill-opacity="0.72" stroke="#111" stroke-opacity="0.8" stroke-width="0.75"/>
<path d="M296.4 448.5L300.3 452.2L296.4 455.9L292.5 452.2Z" fill="#33a49b" fill-opacity="0.72" stroke="#111" stroke-opacity="0.8" stroke-width="0.75"/>
<path d="M296.4 457.6L300.3 461.3L296.4 465.0L292.5 461.3Z" fill="#33a49b" fill-opacity="0.72" stroke="#111" stroke-opacity="0.8" stroke-width="0.75"/>
<path d="M320.8 447.7L324.7 451.4L320.8 455.1L316.9 451.4Z" fill="#36a85a" fill-opacity="0.72" stroke="#111" stroke-opacity="0.8" stroke-width="0.75"/>
<path d="M320.8 451.4L324.7 455.1L320.8 458.8L316.9 455.1Z" fill="#36a85a" fill-opacity="0.72" stroke="#111" stroke-opacity="0.8" stroke-width="0.75"/>
<path d="M320.8 453.5L324.7 457.2L320.8 460.9L316.9 457.2Z" fill="#36a85a" fill-opacity="0.72" stroke="#111" stroke-opacity="0.8" stroke-width="0.75"/>
<path d="M320.8 455.4L324.7 459.1L320.8 462.8L316.9 459.1Z" fill="#36a85a" fill-opacity="0.72" stroke="#111" stroke-opacity="0.8" stroke-width="0.75"/>
<path d="M320.8 457.2L324.7 460.9L320.8 464.6L316.9 460.9Z" fill="#36a85a" fill-opacity="0.72" stroke="#111" stroke-opacity="0.8" stroke-width="0.75"/>
<path d="M320.8 458.8L324.7 462.5L320.8 466.2L316.9 462.5Z" fill="#36a85a" fill-opacity="0.72" stroke="#111" stroke-opacity="0.8" stroke-width="0.75"/>
<path d="M320.8 460.3L324.7 464.0L320.8 467.7L316.9 464.0Z" fill="#36a85a" fill-opacity="0.72" stroke="#111" stroke-opacity="0.8" stroke-width="0.75"/>
<path d="M320.8 461.6L324.7 465.3L320.8 469.0L316.9 465.3Z" fill="#36a85a" fill-opacity="0.72" stroke="#111" stroke-opacity="0.8" stroke-width="0.75"/>
<path d="M320.8 462.6L324.7 466.3L320.8 470.0L316.9 466.3Z" fill="#36a85a" fill-opacity="0.72" stroke="#111" stroke-opacity="0.8" stroke-width="0.75"/>
<path d="M320.8 463.5L324.7 467.2L320.8 470.9L316.9 467.2Z" fill="#36a85a" fill-opacity="0.72" stroke="#111" stroke-opacity="0.8" stroke-width="0.75"/>
<path d="M320.8 464.5L324.7 468.2L320.8 471.9L316.9 468.2Z" fill="#36a85a" fill-opacity="0.72" stroke="#111" stroke-opacity="0.8" stroke-width="0.75"/>
<path d="M320.8 465.7L324.7 469.4L320.8 473.1L316.9 469.4Z" fill="#36a85a" fill-opacity="0.72" stroke="#111" stroke-opacity="0.8" stroke-width="0.75"/>
<path d="M320.8 467.0L324.7 470.7L320.8 474.4L316.9 470.7Z" fill="#36a85a" fill-opacity="0.72" stroke="#111" stroke-opacity="0.8" stroke-width="0.75"/>
<path d="M320.8 468.4L324.7 472.1L320.8 475.8L316.9 472.1Z" fill="#36a85a" fill-opacity="0.72" stroke="#111" stroke-opacity="0.8" stroke-width="0.75"/>
<path d="M320.8 470.0L324.7 473.7L320.8 477.4L316.9 473.7Z" fill="#36a85a" fill-opacity="0.72" stroke="#111" stroke-opacity="0.8" stroke-width="0.75"/>
<path d="M345.7 412.5L349.6 416.2L345.7 419.9L341.8 416.2Z" fill="#fde42c" fill-opacity="0.72" stroke="#111" stroke-opacity="0.3" stroke-width="0.75"/>
<path d="M345.7 431.9L349.6 435.6L345.7 439.3L341.8 435.6Z" fill="#fde42c" fill-opacity="0.72" stroke="#111" stroke-opacity="0.8" stroke-width="0.75"/>
<path d="M345.7 434.3L349.6 438.0L345.7 441.7L341.8 438.0Z" fill="#fde42c" fill-opacity="0.72" stroke="#111" stroke-opacity="0.8" stroke-width="0.75"/>
<path d="M345.7 436.9L349.6 440.6L345.7 444.3L341.8 440.6Z" fill="#fde42c" fill-opacity="0.72" stroke="#111" stroke-opacity="0.8" stroke-width="0.75"/>
<path d="M345.7 444.3L349.6 448.0L345.7 451.7L341.8 448.0Z" fill="#fde42c" fill-opacity="0.72" stroke="#111" stroke-opacity="0.8" stroke-width="0.75"/>
<path d="M345.7 447.3L349.6 451.0L345.7 454.7L341.8 451.0Z" fill="#fde42c" fill-opacity="0.72" stroke="#111" stroke-opacity="0.8" stroke-width="0.75"/>
<path d="M345.7 451.0L349.6 454.7L345.7 458.4L341.8 454.7Z" fill="#fde42c" fill-opacity="0.72" stroke="#111" stroke-opacity="0.8" stroke-width="0.75"/>
<path d="M345.7 457.6L349.6 461.3L345.7 465.0L341.8 461.3Z" fill="#fde42c" fill-opacity="0.72" stroke="#111" stroke-opacity="0.8" stroke-width="0.75"/>
<path d="M383.6 436.6L387.5 440.3L383.6 444.0L379.7 440.3Z" fill="#4b1a78" fill-opacity="0.72" stroke="#111" stroke-opacity="0.8" stroke-width="0.75"/>
<path d="M383.6 448.3L387.5 452.0L383.6 455.7L379.7 452.0Z" fill="#4b1a78" fill-opacity="0.72" stroke="#111" stroke-opacity="0.8" stroke-width="0.75"/>
<path d="M383.6 451.8L387.5 455.5L383.6 459.2L379.7 455.5Z" fill="#4b1a78" fill-opacity="0.72" stroke="#111" stroke-opacity="0.8" stroke-width="0.75"/>
<path d="M383.6 454.5L387.5 458.2L383.6 461.9L379.7 458.2Z" fill="#4b1a78" fill-opacity="0.72" stroke="#111" stroke-opacity="0.8" stroke-width="0.75"/>
<path d="M383.6 456.7L387.5 460.4L383.6 464.1L379.7 460.4Z" fill="#4b1a78" fill-opacity="0.72" stroke="#111" stroke-opacity="0.8" stroke-width="0.75"/>
<path d="M383.6 459.2L387.5 462.9L383.6 466.6L379.7 462.9Z" fill="#4b1a78" fill-opacity="0.72" stroke="#111" stroke-opacity="0.8" stroke-width="0.75"/>
<path d="M383.6 462.4L387.5 466.1L383.6 469.8L379.7 466.1Z" fill="#4b1a78" fill-opacity="0.72" stroke="#111" stroke-opacity="0.8" stroke-width="0.75"/>
<path d="M408.3 404.2L412.2 407.9L408.3 411.6L404.4 407.9Z" fill="#3e6ea8" fill-opacity="0.72" stroke="#111" stroke-opacity="0.3" stroke-width="0.75"/>
<path d="M408.3 439.1L412.2 442.8L408.3 446.5L404.4 442.8Z" fill="#3e6ea8" fill-opacity="0.72" stroke="#111" stroke-opacity="0.8" stroke-width="0.75"/>
<path d="M408.3 452.7L412.2 456.4L408.3 460.1L404.4 456.4Z" fill="#3e6ea8" fill-opacity="0.72" stroke="#111" stroke-opacity="0.8" stroke-width="0.75"/>
<path d="M408.3 455.3L412.2 459.0L408.3 462.7L404.4 459.0Z" fill="#3e6ea8" fill-opacity="0.72" stroke="#111" stroke-opacity="0.8" stroke-width="0.75"/>
<path d="M408.3 457.7L412.2 461.4L408.3 465.1L404.4 461.4Z" fill="#3e6ea8" fill-opacity="0.72" stroke="#111" stroke-opacity="0.8" stroke-width="0.75"/>
<path d="M408.3 459.8L412.2 463.5L408.3 467.2L404.4 463.5Z" fill="#3e6ea8" fill-opacity="0.72" stroke="#111" stroke-opacity="0.8" stroke-width="0.75"/>
<path d="M408.3 461.6L412.2 465.3L408.3 469.0L404.4 465.3Z" fill="#3e6ea8" fill-opacity="0.72" stroke="#111" stroke-opacity="0.8" stroke-width="0.75"/>
<path d="M408.3 462.9L412.2 466.6L408.3 470.3L404.4 466.6Z" fill="#3e6ea8" fill-opacity="0.72" stroke="#111" stroke-opacity="0.8" stroke-width="0.75"/>
<path d="M408.3 464.1L412.2 467.8L408.3 471.5L404.4 467.8Z" fill="#3e6ea8" fill-opacity="0.72" stroke="#111" stroke-opacity="0.8" stroke-width="0.75"/>
<path d="M408.3 465.5L412.2 469.2L408.3 472.9L404.4 469.2Z" fill="#3e6ea8" fill-opacity="0.72" stroke="#111" stroke-opacity="0.8" stroke-width="0.75"/>
<path d="M408.3 467.2L412.2 470.9L408.3 474.6L404.4 470.9Z" fill="#3e6ea8" fill-opacity="0.72" stroke="#111" stroke-opacity="0.8" stroke-width="0.75"/>
<path d="M408.3 469.2L412.2 472.9L408.3 476.6L404.4 472.9Z" fill="#3e6ea8" fill-opacity="0.72" stroke="#111" stroke-opacity="0.8" stroke-width="0.75"/>
<path d="M433.0 417.5L436.9 421.2L433.0 424.9L429.1 421.2Z" fill="#3a8dab" fill-opacity="0.72" stroke="#111" stroke-opacity="0.8" stroke-width="0.75"/>
<path d="M433.0 430.3L436.9 434.0L433.0 437.7L429.1 434.0Z" fill="#3a8dab" fill-opacity="0.72" stroke="#111" stroke-opacity="0.8" stroke-width="0.75"/>
<path d="M433.0 436.1L436.9 439.8L433.0 443.5L429.1 439.8Z" fill="#3a8dab" fill-opacity="0.72" stroke="#111" stroke-opacity="0.8" stroke-width="0.75"/>
<path d="M433.0 437.3L436.9 441.0L433.0 444.7L429.1 441.0Z" fill="#3a8dab" fill-opacity="0.72" stroke="#111" stroke-opacity="0.8" stroke-width="0.75"/>
<path d="M433.0 439.4L436.9 443.1L433.0 446.8L429.1 443.1Z" fill="#3a8dab" fill-opacity="0.72" stroke="#111" stroke-opacity="0.8" stroke-width="0.75"/>
<path d="M433.0 451.0L436.9 454.7L433.0 458.4L429.1 454.7Z" fill="#3a8dab" fill-opacity="0.72" stroke="#111" stroke-opacity="0.8" stroke-width="0.75"/>
<path d="M433.0 457.7L436.9 461.4L433.0 465.1L429.1 461.4Z" fill="#3a8dab" fill-opacity="0.72" stroke="#111" stroke-opacity="0.8" stroke-width="0.75"/>
<path d="M433.0 462.6L436.9 466.3L433.0 470.0L429.1 466.3Z" fill="#3a8dab" fill-opacity="0.72" stroke="#111" stroke-opacity="0.8" stroke-width="0.75"/>
<path d="M433.0 466.8L436.9 470.5L433.0 474.2L429.1 470.5Z" fill="#3a8dab" fill-opacity="0.72" stroke="#111" stroke-opacity="0.8" stroke-width="0.75"/>
<path d="M457.6 418.6L461.5 422.3L457.6 426.0L453.7 422.3Z" fill="#20a386" fill-opacity="0.72" stroke="#111" stroke-opacity="0.8" stroke-width="0.75"/>
<path d="M457.6 419.2L461.5 422.9L457.6 426.6L453.7 422.9Z" fill="#20a386" fill-opacity="0.72" stroke="#111" stroke-opacity="0.8" stroke-width="0.75"/>
<path d="M457.6 419.8L461.5 423.5L457.6 427.2L453.7 423.5Z" fill="#20a386" fill-opacity="0.72" stroke="#111" stroke-opacity="0.8" stroke-width="0.75"/>
<path d="M457.6 434.4L461.5 438.1L457.6 441.8L453.7 438.1Z" fill="#20a386" fill-opacity="0.72" stroke="#111" stroke-opacity="0.8" stroke-width="0.75"/>
<path d="M457.6 434.8L461.5 438.5L457.6 442.2L453.7 438.5Z" fill="#20a386" fill-opacity="0.72" stroke="#111" stroke-opacity="0.8" stroke-width="0.75"/>
<path d="M457.6 449.4L461.5 453.1L457.6 456.8L453.7 453.1Z" fill="#20a386" fill-opacity="0.72" stroke="#111" stroke-opacity="0.8" stroke-width="0.75"/>
<path d="M482.3 452.7L486.2 456.4L482.3 460.1L478.4 456.4Z" fill="#49b84e" fill-opacity="0.72" stroke="#111" stroke-opacity="0.8" stroke-width="0.75"/>
<path d="M482.3 455.2L486.2 458.9L482.3 462.6L478.4 458.9Z" fill="#49b84e" fill-opacity="0.72" stroke="#111" stroke-opacity="0.8" stroke-width="0.75"/>
<path d="M482.3 456.8L486.2 460.5L482.3 464.2L478.4 460.5Z" fill="#49b84e" fill-opacity="0.72" stroke="#111" stroke-opacity="0.8" stroke-width="0.75"/>
<path d="M482.3 458.4L486.2 462.1L482.3 465.8L478.4 462.1Z" fill="#49b84e" fill-opacity="0.72" stroke="#111" stroke-opacity="0.8" stroke-width="0.75"/>
<path d="M482.3 459.8L486.2 463.5L482.3 467.2L478.4 463.5Z" fill="#49b84e" fill-opacity="0.72" stroke="#111" stroke-opacity="0.8" stroke-width="0.75"/>
<path d="M482.3 461.1L486.2 464.8L482.3 468.5L478.4 464.8Z" fill="#49b84e" fill-opacity="0.72" stroke="#111" stroke-opacity="0.8" stroke-width="0.75"/>
<path d="M482.3 462.3L486.2 466.0L482.3 469.7L478.4 466.0Z" fill="#49b84e" fill-opacity="0.72" stroke="#111" stroke-opacity="0.8" stroke-width="0.75"/>
<path d="M482.3 463.4L486.2 467.1L482.3 470.8L478.4 467.1Z" fill="#49b84e" fill-opacity="0.72" stroke="#111" stroke-opacity="0.8" stroke-width="0.75"/>
<path d="M482.3 464.2L486.2 467.9L482.3 471.6L478.4 467.9Z" fill="#49b84e" fill-opacity="0.72" stroke="#111" stroke-opacity="0.8" stroke-width="0.75"/>
<path d="M482.3 464.9L486.2 468.6L482.3 472.3L478.4 468.6Z" fill="#49b84e" fill-opacity="0.72" stroke="#111" stroke-opacity="0.8" stroke-width="0.75"/>
<path d="M482.3 465.7L486.2 469.4L482.3 473.1L478.4 469.4Z" fill="#49b84e" fill-opacity="0.72" stroke="#111" stroke-opacity="0.8" stroke-width="0.75"/>
<path d="M482.3 466.7L486.2 470.4L482.3 474.1L478.4 470.4Z" fill="#49b84e" fill-opacity="0.72" stroke="#111" stroke-opacity="0.8" stroke-width="0.75"/>
<path d="M482.3 467.7L486.2 471.4L482.3 475.1L478.4 471.4Z" fill="#49b84e" fill-opacity="0.72" stroke="#111" stroke-opacity="0.8" stroke-width="0.75"/>
<path d="M482.3 468.9L486.2 472.6L482.3 476.3L478.4 472.6Z" fill="#49b84e" fill-opacity="0.72" stroke="#111" stroke-opacity="0.8" stroke-width="0.75"/>
<path d="M482.3 470.2L486.2 473.9L482.3 477.6L478.4 473.9Z" fill="#49b84e" fill-opacity="0.72" stroke="#111" stroke-opacity="0.8" stroke-width="0.75"/>
<path d="M507.2 406.2L511.1 409.9L507.2 413.6L503.3 409.9Z" fill="#d4df23" fill-opacity="0.72" stroke="#111" stroke-opacity="0.3" stroke-width="0.75"/>
<path d="M507.2 439.4L511.1 443.1L507.2 446.8L503.3 443.1Z" fill="#d4df23" fill-opacity="0.72" stroke="#111" stroke-opacity="0.8" stroke-width="0.75"/>
<path d="M507.2 439.4L511.1 443.1L507.2 446.8L503.3 443.1Z" fill="#d4df23" fill-opacity="0.72" stroke="#111" stroke-opacity="0.8" stroke-width="0.75"/>
<path d="M507.2 448.0L511.1 451.7L507.2 455.4L503.3 451.7Z" fill="#d4df23" fill-opacity="0.72" stroke="#111" stroke-opacity="0.8" stroke-width="0.75"/>
<path d="M507.2 448.0L511.1 451.7L507.2 455.4L503.3 451.7Z" fill="#d4df23" fill-opacity="0.72" stroke="#111" stroke-opacity="0.8" stroke-width="0.75"/>
<path d="M507.2 452.7L511.1 456.4L507.2 460.1L503.3 456.4Z" fill="#d4df23" fill-opacity="0.72" stroke="#111" stroke-opacity="0.8" stroke-width="0.75"/>
<path d="M507.2 452.7L511.1 456.4L507.2 460.1L503.3 456.4Z" fill="#d4df23" fill-opacity="0.72" stroke="#111" stroke-opacity="0.8" stroke-width="0.75"/>
<path d="M507.2 452.7L511.1 456.4L507.2 460.1L503.3 456.4Z" fill="#d4df23" fill-opacity="0.72" stroke="#111" stroke-opacity="0.8" stroke-width="0.75"/>
<line x1="46.50" y1="237.75" x2="199.40" y2="237.75" stroke="#7d7d7d" stroke-width="1.0"/>
<line x1="46.50" y1="486.45" x2="199.40" y2="486.45" stroke="#b8b8b8" stroke-width="1.25"/>
<line x1="46.50" y1="237.25" x2="46.50" y2="487.00" stroke="#a3a3a3" stroke-width="1.0"/>
<line x1="199.40" y1="237.25" x2="199.40" y2="487.00" stroke="#bebebe" stroke-width="1.15"/>
<line x1="207.50" y1="237.75" x2="360.60" y2="237.75" stroke="#7d7d7d" stroke-width="1.0"/>
<line x1="207.50" y1="486.45" x2="360.60" y2="486.45" stroke="#b8b8b8" stroke-width="1.25"/>
<line x1="207.50" y1="237.25" x2="207.50" y2="487.00" stroke="#8a8a8a" stroke-width="1.0"/>
<line x1="360.60" y1="237.25" x2="360.60" y2="487.00" stroke="#8e8e8e" stroke-width="1.15"/>
<line x1="369.40" y1="237.75" x2="521.70" y2="237.75" stroke="#7d7d7d" stroke-width="1.0"/>
<line x1="369.40" y1="486.45" x2="521.70" y2="486.45" stroke="#b8b8b8" stroke-width="1.25"/>
<line x1="369.40" y1="237.25" x2="369.40" y2="487.00" stroke="#e2e2e2" stroke-width="1.0"/>
<line x1="521.70" y1="237.25" x2="521.70" y2="487.00" stroke="#c4c4c4" stroke-width="1.15"/>
</svg>
</body></html>
